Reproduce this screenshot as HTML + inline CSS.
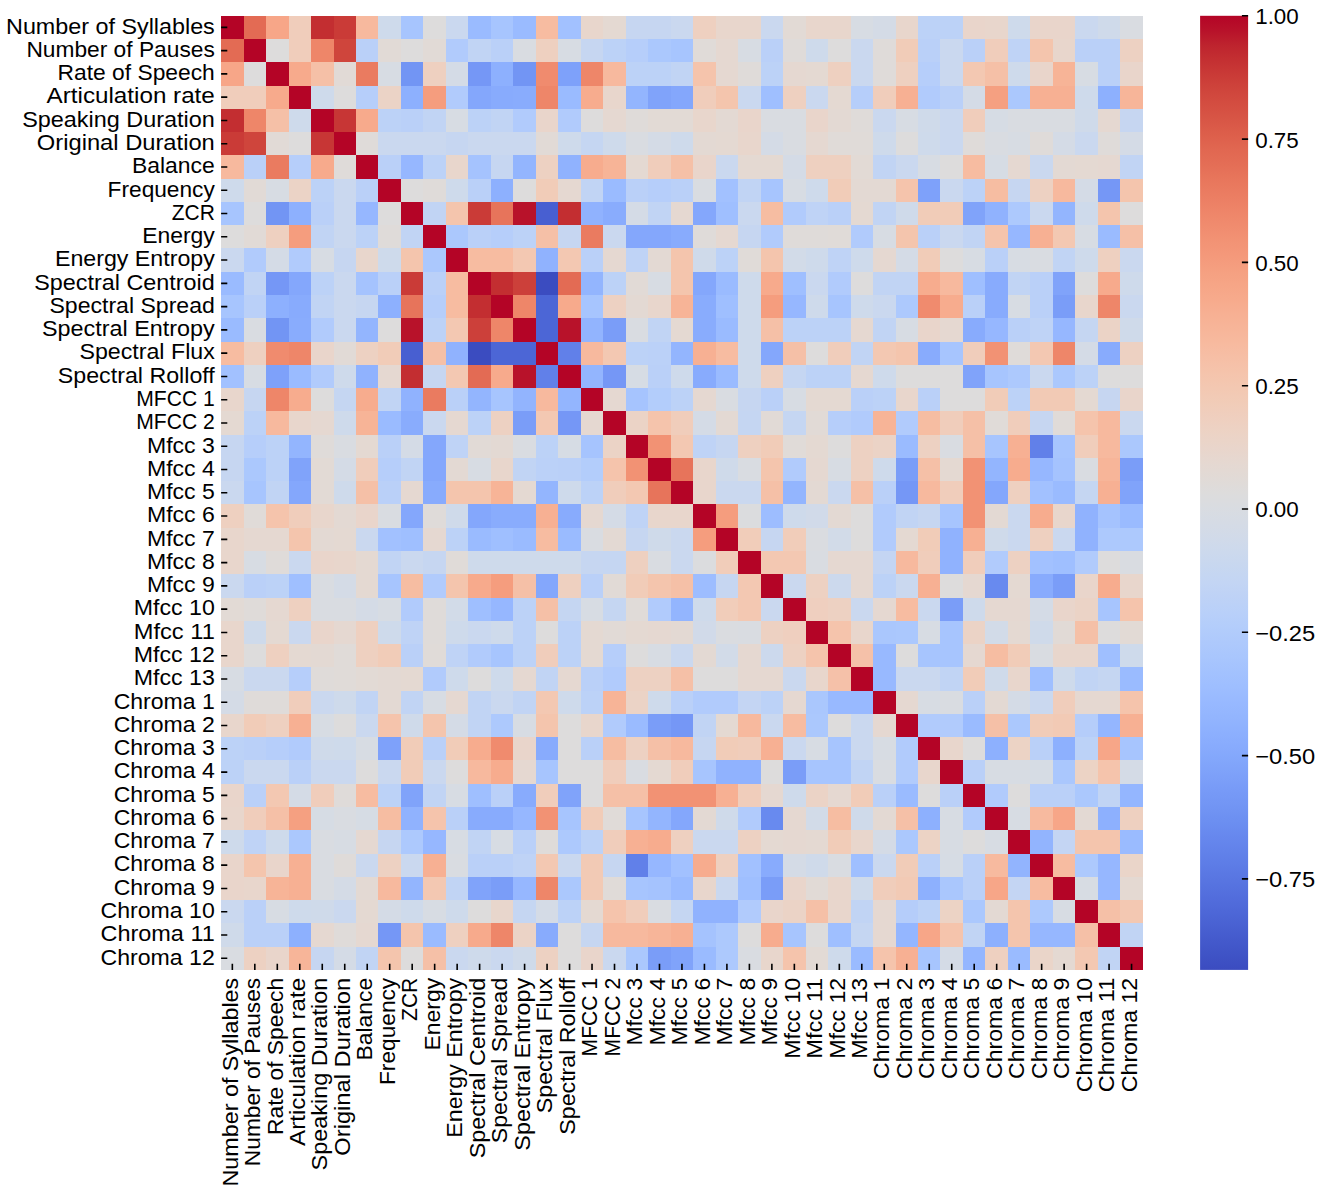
<!DOCTYPE html><html><head><meta charset="utf-8"><style>html,body{margin:0;padding:0;background:#fff;}svg{display:block;}text{font-family:"Liberation Sans",sans-serif;fill:#000;}</style></head><body>
<svg width="1325" height="1193" viewBox="0 0 1325 1193">
<rect width="1325" height="1193" fill="#fff"/>
<defs><linearGradient id="cb" x1="0" y1="0" x2="0" y2="1"><stop offset="0.0000" stop-color="#b40426"/><stop offset="0.0156" stop-color="#b8122a"/><stop offset="0.0312" stop-color="#be242e"/><stop offset="0.0469" stop-color="#c43032"/><stop offset="0.0625" stop-color="#ca3b37"/><stop offset="0.0781" stop-color="#cf453c"/><stop offset="0.0938" stop-color="#d44e41"/><stop offset="0.1094" stop-color="#d85646"/><stop offset="0.1250" stop-color="#dd5f4b"/><stop offset="0.1406" stop-color="#e16751"/><stop offset="0.1562" stop-color="#e46e56"/><stop offset="0.1719" stop-color="#e8765c"/><stop offset="0.1875" stop-color="#eb7d62"/><stop offset="0.2031" stop-color="#ee8468"/><stop offset="0.2188" stop-color="#f08b6e"/><stop offset="0.2344" stop-color="#f29274"/><stop offset="0.2500" stop-color="#f4987a"/><stop offset="0.2656" stop-color="#f59f80"/><stop offset="0.2812" stop-color="#f6a586"/><stop offset="0.2969" stop-color="#f7aa8c"/><stop offset="0.3125" stop-color="#f7b093"/><stop offset="0.3281" stop-color="#f7b599"/><stop offset="0.3438" stop-color="#f7ba9f"/><stop offset="0.3594" stop-color="#f6bfa6"/><stop offset="0.3750" stop-color="#f5c4ac"/><stop offset="0.3906" stop-color="#f3c8b2"/><stop offset="0.4062" stop-color="#f1ccb8"/><stop offset="0.4219" stop-color="#efcfbf"/><stop offset="0.4375" stop-color="#ecd3c5"/><stop offset="0.4531" stop-color="#e9d5cb"/><stop offset="0.4688" stop-color="#e5d8d1"/><stop offset="0.4844" stop-color="#e1dad6"/><stop offset="0.5000" stop-color="#dddcdc"/><stop offset="0.5156" stop-color="#d9dce1"/><stop offset="0.5312" stop-color="#d5dbe5"/><stop offset="0.5469" stop-color="#d1dae9"/><stop offset="0.5625" stop-color="#ccd9ed"/><stop offset="0.5781" stop-color="#c7d7f0"/><stop offset="0.5938" stop-color="#c3d5f4"/><stop offset="0.6094" stop-color="#bed2f6"/><stop offset="0.6250" stop-color="#b9d0f9"/><stop offset="0.6406" stop-color="#b3cdfb"/><stop offset="0.6562" stop-color="#aec9fc"/><stop offset="0.6719" stop-color="#a9c6fd"/><stop offset="0.6875" stop-color="#a3c2fe"/><stop offset="0.7031" stop-color="#9ebeff"/><stop offset="0.7188" stop-color="#98b9ff"/><stop offset="0.7344" stop-color="#93b5fe"/><stop offset="0.7500" stop-color="#8db0fe"/><stop offset="0.7656" stop-color="#88abfd"/><stop offset="0.7812" stop-color="#82a6fb"/><stop offset="0.7969" stop-color="#7da0f9"/><stop offset="0.8125" stop-color="#779af7"/><stop offset="0.8281" stop-color="#7295f4"/><stop offset="0.8438" stop-color="#6c8ff1"/><stop offset="0.8594" stop-color="#6788ee"/><stop offset="0.8750" stop-color="#6282ea"/><stop offset="0.8906" stop-color="#5d7ce6"/><stop offset="0.9062" stop-color="#5875e1"/><stop offset="0.9219" stop-color="#536edd"/><stop offset="0.9375" stop-color="#4e68d8"/><stop offset="0.9531" stop-color="#4961d2"/><stop offset="0.9688" stop-color="#445acc"/><stop offset="0.9844" stop-color="#3f53c6"/><stop offset="1.0000" stop-color="#3b4cc0"/></linearGradient></defs>
<g shape-rendering="crispEdges">
<rect x="221.10" y="15.70" width="22.88" height="23.67" fill="#b40426"/>
<rect x="243.58" y="15.70" width="22.88" height="23.67" fill="#e36b54"/>
<rect x="266.06" y="15.70" width="22.88" height="23.67" fill="#f7a688"/>
<rect x="288.54" y="15.70" width="22.88" height="23.67" fill="#f0cdbb"/>
<rect x="311.02" y="15.70" width="22.88" height="23.67" fill="#c32e31"/>
<rect x="333.50" y="15.70" width="22.88" height="23.67" fill="#ca3b37"/>
<rect x="355.98" y="15.70" width="22.88" height="23.67" fill="#f7b99e"/>
<rect x="378.46" y="15.70" width="22.88" height="23.67" fill="#cedaeb"/>
<rect x="400.94" y="15.70" width="22.88" height="23.67" fill="#a7c5fe"/>
<rect x="423.42" y="15.70" width="22.88" height="23.67" fill="#dddcdc"/>
<rect x="445.90" y="15.70" width="22.88" height="23.67" fill="#cad8ef"/>
<rect x="468.39" y="15.70" width="22.88" height="23.67" fill="#9abbff"/>
<rect x="490.87" y="15.70" width="22.88" height="23.67" fill="#a7c5fe"/>
<rect x="513.35" y="15.70" width="22.88" height="23.67" fill="#9abbff"/>
<rect x="535.83" y="15.70" width="22.88" height="23.67" fill="#f7bca1"/>
<rect x="558.31" y="15.70" width="22.88" height="23.67" fill="#a2c1ff"/>
<rect x="580.79" y="15.70" width="22.88" height="23.67" fill="#e8d6cc"/>
<rect x="603.27" y="15.70" width="22.88" height="23.67" fill="#e4d9d2"/>
<rect x="625.75" y="15.70" width="22.88" height="23.67" fill="#c6d6f1"/>
<rect x="648.23" y="15.70" width="22.88" height="23.67" fill="#c6d6f1"/>
<rect x="670.71" y="15.70" width="22.88" height="23.67" fill="#cad8ef"/>
<rect x="693.19" y="15.70" width="22.88" height="23.67" fill="#eed0c0"/>
<rect x="715.67" y="15.70" width="22.88" height="23.67" fill="#e8d6cc"/>
<rect x="738.15" y="15.70" width="22.88" height="23.67" fill="#e8d6cc"/>
<rect x="760.63" y="15.70" width="22.88" height="23.67" fill="#cad8ef"/>
<rect x="783.11" y="15.70" width="22.88" height="23.67" fill="#e2dad5"/>
<rect x="805.59" y="15.70" width="22.88" height="23.67" fill="#e8d6cc"/>
<rect x="828.07" y="15.70" width="22.88" height="23.67" fill="#e8d6cc"/>
<rect x="850.55" y="15.70" width="22.88" height="23.67" fill="#d7dce3"/>
<rect x="873.03" y="15.70" width="22.88" height="23.67" fill="#d4dbe6"/>
<rect x="895.51" y="15.70" width="22.88" height="23.67" fill="#e8d6cc"/>
<rect x="918.00" y="15.70" width="22.88" height="23.67" fill="#bcd2f7"/>
<rect x="940.48" y="15.70" width="22.88" height="23.67" fill="#bcd2f7"/>
<rect x="962.96" y="15.70" width="22.88" height="23.67" fill="#e9d5cb"/>
<rect x="985.44" y="15.70" width="22.88" height="23.67" fill="#e8d6cc"/>
<rect x="1007.92" y="15.70" width="22.88" height="23.67" fill="#cedaeb"/>
<rect x="1030.40" y="15.70" width="22.88" height="23.67" fill="#e9d5cb"/>
<rect x="1052.88" y="15.70" width="22.88" height="23.67" fill="#e9d5cb"/>
<rect x="1075.36" y="15.70" width="22.88" height="23.67" fill="#cad8ef"/>
<rect x="1097.84" y="15.70" width="22.88" height="23.67" fill="#cfdaea"/>
<rect x="1120.32" y="15.70" width="22.88" height="23.67" fill="#d9dce1"/>
<rect x="221.10" y="38.97" width="22.88" height="23.67" fill="#e36b54"/>
<rect x="243.58" y="38.97" width="22.88" height="23.67" fill="#b40426"/>
<rect x="266.06" y="38.97" width="22.88" height="23.67" fill="#dddcdc"/>
<rect x="288.54" y="38.97" width="22.88" height="23.67" fill="#f0cdbb"/>
<rect x="311.02" y="38.97" width="22.88" height="23.67" fill="#ee8669"/>
<rect x="333.50" y="38.97" width="22.88" height="23.67" fill="#cf453c"/>
<rect x="355.98" y="38.97" width="22.88" height="23.67" fill="#bad0f8"/>
<rect x="378.46" y="38.97" width="22.88" height="23.67" fill="#e1dad6"/>
<rect x="400.94" y="38.97" width="22.88" height="23.67" fill="#dddcdc"/>
<rect x="423.42" y="38.97" width="22.88" height="23.67" fill="#e1dad6"/>
<rect x="445.90" y="38.97" width="22.88" height="23.67" fill="#b1cbfc"/>
<rect x="468.39" y="38.97" width="22.88" height="23.67" fill="#c1d4f4"/>
<rect x="490.87" y="38.97" width="22.88" height="23.67" fill="#bad0f8"/>
<rect x="513.35" y="38.97" width="22.88" height="23.67" fill="#d9dce1"/>
<rect x="535.83" y="38.97" width="22.88" height="23.67" fill="#eed0c0"/>
<rect x="558.31" y="38.97" width="22.88" height="23.67" fill="#d7dce3"/>
<rect x="580.79" y="38.97" width="22.88" height="23.67" fill="#c6d6f1"/>
<rect x="603.27" y="38.97" width="22.88" height="23.67" fill="#bcd2f7"/>
<rect x="625.75" y="38.97" width="22.88" height="23.67" fill="#b6cefa"/>
<rect x="648.23" y="38.97" width="22.88" height="23.67" fill="#abc8fd"/>
<rect x="670.71" y="38.97" width="22.88" height="23.67" fill="#a7c5fe"/>
<rect x="693.19" y="38.97" width="22.88" height="23.67" fill="#e0dbd8"/>
<rect x="715.67" y="38.97" width="22.88" height="23.67" fill="#e5d8d1"/>
<rect x="738.15" y="38.97" width="22.88" height="23.67" fill="#d7dce3"/>
<rect x="760.63" y="38.97" width="22.88" height="23.67" fill="#bad0f8"/>
<rect x="783.11" y="38.97" width="22.88" height="23.67" fill="#dfdbd9"/>
<rect x="805.59" y="38.97" width="22.88" height="23.67" fill="#cedaeb"/>
<rect x="828.07" y="38.97" width="22.88" height="23.67" fill="#dddcdc"/>
<rect x="850.55" y="38.97" width="22.88" height="23.67" fill="#cad8ef"/>
<rect x="873.03" y="38.97" width="22.88" height="23.67" fill="#dfdbd9"/>
<rect x="895.51" y="38.97" width="22.88" height="23.67" fill="#f1ccb8"/>
<rect x="918.00" y="38.97" width="22.88" height="23.67" fill="#bad0f8"/>
<rect x="940.48" y="38.97" width="22.88" height="23.67" fill="#cad8ef"/>
<rect x="962.96" y="38.97" width="22.88" height="23.67" fill="#bad0f8"/>
<rect x="985.44" y="38.97" width="22.88" height="23.67" fill="#f0cdbb"/>
<rect x="1007.92" y="38.97" width="22.88" height="23.67" fill="#bfd3f6"/>
<rect x="1030.40" y="38.97" width="22.88" height="23.67" fill="#f4c5ad"/>
<rect x="1052.88" y="38.97" width="22.88" height="23.67" fill="#e8d6cc"/>
<rect x="1075.36" y="38.97" width="22.88" height="23.67" fill="#bad0f8"/>
<rect x="1097.84" y="38.97" width="22.88" height="23.67" fill="#bad0f8"/>
<rect x="1120.32" y="38.97" width="22.88" height="23.67" fill="#edd1c2"/>
<rect x="221.10" y="62.25" width="22.88" height="23.67" fill="#f7a688"/>
<rect x="243.58" y="62.25" width="22.88" height="23.67" fill="#dddcdc"/>
<rect x="266.06" y="62.25" width="22.88" height="23.67" fill="#b40426"/>
<rect x="288.54" y="62.25" width="22.88" height="23.67" fill="#f7aa8c"/>
<rect x="311.02" y="62.25" width="22.88" height="23.67" fill="#f5c0a7"/>
<rect x="333.50" y="62.25" width="22.88" height="23.67" fill="#e1dad6"/>
<rect x="355.98" y="62.25" width="22.88" height="23.67" fill="#ea7b60"/>
<rect x="378.46" y="62.25" width="22.88" height="23.67" fill="#d7dce3"/>
<rect x="400.94" y="62.25" width="22.88" height="23.67" fill="#7295f4"/>
<rect x="423.42" y="62.25" width="22.88" height="23.67" fill="#eed0c0"/>
<rect x="445.90" y="62.25" width="22.88" height="23.67" fill="#d4dbe6"/>
<rect x="468.39" y="62.25" width="22.88" height="23.67" fill="#7597f6"/>
<rect x="490.87" y="62.25" width="22.88" height="23.67" fill="#8db0fe"/>
<rect x="513.35" y="62.25" width="22.88" height="23.67" fill="#7295f4"/>
<rect x="535.83" y="62.25" width="22.88" height="23.67" fill="#f08b6e"/>
<rect x="558.31" y="62.25" width="22.88" height="23.67" fill="#7ea1fa"/>
<rect x="580.79" y="62.25" width="22.88" height="23.67" fill="#ee8669"/>
<rect x="603.27" y="62.25" width="22.88" height="23.67" fill="#f7b99e"/>
<rect x="625.75" y="62.25" width="22.88" height="23.67" fill="#bcd2f7"/>
<rect x="648.23" y="62.25" width="22.88" height="23.67" fill="#bcd2f7"/>
<rect x="670.71" y="62.25" width="22.88" height="23.67" fill="#c1d4f4"/>
<rect x="693.19" y="62.25" width="22.88" height="23.67" fill="#f5c4ac"/>
<rect x="715.67" y="62.25" width="22.88" height="23.67" fill="#e5d8d1"/>
<rect x="738.15" y="62.25" width="22.88" height="23.67" fill="#dfdbd9"/>
<rect x="760.63" y="62.25" width="22.88" height="23.67" fill="#bcd2f7"/>
<rect x="783.11" y="62.25" width="22.88" height="23.67" fill="#e5d8d1"/>
<rect x="805.59" y="62.25" width="22.88" height="23.67" fill="#e4d9d2"/>
<rect x="828.07" y="62.25" width="22.88" height="23.67" fill="#eed0c0"/>
<rect x="850.55" y="62.25" width="22.88" height="23.67" fill="#cad8ef"/>
<rect x="873.03" y="62.25" width="22.88" height="23.67" fill="#dfdbd9"/>
<rect x="895.51" y="62.25" width="22.88" height="23.67" fill="#eed0c0"/>
<rect x="918.00" y="62.25" width="22.88" height="23.67" fill="#b6cefa"/>
<rect x="940.48" y="62.25" width="22.88" height="23.67" fill="#cad8ef"/>
<rect x="962.96" y="62.25" width="22.88" height="23.67" fill="#f3c8b2"/>
<rect x="985.44" y="62.25" width="22.88" height="23.67" fill="#f5c0a7"/>
<rect x="1007.92" y="62.25" width="22.88" height="23.67" fill="#cedaeb"/>
<rect x="1030.40" y="62.25" width="22.88" height="23.67" fill="#e9d5cb"/>
<rect x="1052.88" y="62.25" width="22.88" height="23.67" fill="#f7b497"/>
<rect x="1075.36" y="62.25" width="22.88" height="23.67" fill="#d7dce3"/>
<rect x="1097.84" y="62.25" width="22.88" height="23.67" fill="#bad0f8"/>
<rect x="1120.32" y="62.25" width="22.88" height="23.67" fill="#e9d5cb"/>
<rect x="221.10" y="85.52" width="22.88" height="23.67" fill="#f0cdbb"/>
<rect x="243.58" y="85.52" width="22.88" height="23.67" fill="#f0cdbb"/>
<rect x="266.06" y="85.52" width="22.88" height="23.67" fill="#f7aa8c"/>
<rect x="288.54" y="85.52" width="22.88" height="23.67" fill="#b40426"/>
<rect x="311.02" y="85.52" width="22.88" height="23.67" fill="#cedaeb"/>
<rect x="333.50" y="85.52" width="22.88" height="23.67" fill="#dddcdc"/>
<rect x="355.98" y="85.52" width="22.88" height="23.67" fill="#b6cefa"/>
<rect x="378.46" y="85.52" width="22.88" height="23.67" fill="#ebd3c6"/>
<rect x="400.94" y="85.52" width="22.88" height="23.67" fill="#8db0fe"/>
<rect x="423.42" y="85.52" width="22.88" height="23.67" fill="#f59d7e"/>
<rect x="445.90" y="85.52" width="22.88" height="23.67" fill="#b1cbfc"/>
<rect x="468.39" y="85.52" width="22.88" height="23.67" fill="#84a7fc"/>
<rect x="490.87" y="85.52" width="22.88" height="23.67" fill="#88abfd"/>
<rect x="513.35" y="85.52" width="22.88" height="23.67" fill="#89acfd"/>
<rect x="535.83" y="85.52" width="22.88" height="23.67" fill="#ee8669"/>
<rect x="558.31" y="85.52" width="22.88" height="23.67" fill="#9abbff"/>
<rect x="580.79" y="85.52" width="22.88" height="23.67" fill="#f7ac8e"/>
<rect x="603.27" y="85.52" width="22.88" height="23.67" fill="#e8d6cc"/>
<rect x="625.75" y="85.52" width="22.88" height="23.67" fill="#93b5fe"/>
<rect x="648.23" y="85.52" width="22.88" height="23.67" fill="#80a3fa"/>
<rect x="670.71" y="85.52" width="22.88" height="23.67" fill="#84a7fc"/>
<rect x="693.19" y="85.52" width="22.88" height="23.67" fill="#f0cdbb"/>
<rect x="715.67" y="85.52" width="22.88" height="23.67" fill="#f4c5ad"/>
<rect x="738.15" y="85.52" width="22.88" height="23.67" fill="#cad8ef"/>
<rect x="760.63" y="85.52" width="22.88" height="23.67" fill="#9fbfff"/>
<rect x="783.11" y="85.52" width="22.88" height="23.67" fill="#eed0c0"/>
<rect x="805.59" y="85.52" width="22.88" height="23.67" fill="#cad8ef"/>
<rect x="828.07" y="85.52" width="22.88" height="23.67" fill="#e4d9d2"/>
<rect x="850.55" y="85.52" width="22.88" height="23.67" fill="#b6cefa"/>
<rect x="873.03" y="85.52" width="22.88" height="23.67" fill="#f0cdbb"/>
<rect x="895.51" y="85.52" width="22.88" height="23.67" fill="#f7b093"/>
<rect x="918.00" y="85.52" width="22.88" height="23.67" fill="#b1cbfc"/>
<rect x="940.48" y="85.52" width="22.88" height="23.67" fill="#bad0f8"/>
<rect x="962.96" y="85.52" width="22.88" height="23.67" fill="#d4dbe6"/>
<rect x="985.44" y="85.52" width="22.88" height="23.67" fill="#f5a081"/>
<rect x="1007.92" y="85.52" width="22.88" height="23.67" fill="#abc8fd"/>
<rect x="1030.40" y="85.52" width="22.88" height="23.67" fill="#f7b093"/>
<rect x="1052.88" y="85.52" width="22.88" height="23.67" fill="#f7b093"/>
<rect x="1075.36" y="85.52" width="22.88" height="23.67" fill="#cedaeb"/>
<rect x="1097.84" y="85.52" width="22.88" height="23.67" fill="#8db0fe"/>
<rect x="1120.32" y="85.52" width="22.88" height="23.67" fill="#f7b599"/>
<rect x="221.10" y="108.79" width="22.88" height="23.67" fill="#c32e31"/>
<rect x="243.58" y="108.79" width="22.88" height="23.67" fill="#ee8669"/>
<rect x="266.06" y="108.79" width="22.88" height="23.67" fill="#f5c0a7"/>
<rect x="288.54" y="108.79" width="22.88" height="23.67" fill="#cedaeb"/>
<rect x="311.02" y="108.79" width="22.88" height="23.67" fill="#b40426"/>
<rect x="333.50" y="108.79" width="22.88" height="23.67" fill="#c73635"/>
<rect x="355.98" y="108.79" width="22.88" height="23.67" fill="#f7aa8c"/>
<rect x="378.46" y="108.79" width="22.88" height="23.67" fill="#bcd2f7"/>
<rect x="400.94" y="108.79" width="22.88" height="23.67" fill="#bad0f8"/>
<rect x="423.42" y="108.79" width="22.88" height="23.67" fill="#c1d4f4"/>
<rect x="445.90" y="108.79" width="22.88" height="23.67" fill="#d7dce3"/>
<rect x="468.39" y="108.79" width="22.88" height="23.67" fill="#bcd2f7"/>
<rect x="490.87" y="108.79" width="22.88" height="23.67" fill="#c1d4f4"/>
<rect x="513.35" y="108.79" width="22.88" height="23.67" fill="#b1cbfc"/>
<rect x="535.83" y="108.79" width="22.88" height="23.67" fill="#e9d5cb"/>
<rect x="558.31" y="108.79" width="22.88" height="23.67" fill="#b1cbfc"/>
<rect x="580.79" y="108.79" width="22.88" height="23.67" fill="#dddcdc"/>
<rect x="603.27" y="108.79" width="22.88" height="23.67" fill="#e5d8d1"/>
<rect x="625.75" y="108.79" width="22.88" height="23.67" fill="#dfdbd9"/>
<rect x="648.23" y="108.79" width="22.88" height="23.67" fill="#e2dad5"/>
<rect x="670.71" y="108.79" width="22.88" height="23.67" fill="#e2dad5"/>
<rect x="693.19" y="108.79" width="22.88" height="23.67" fill="#e8d6cc"/>
<rect x="715.67" y="108.79" width="22.88" height="23.67" fill="#e3d9d3"/>
<rect x="738.15" y="108.79" width="22.88" height="23.67" fill="#e9d5cb"/>
<rect x="760.63" y="108.79" width="22.88" height="23.67" fill="#d9dce1"/>
<rect x="783.11" y="108.79" width="22.88" height="23.67" fill="#d9dce1"/>
<rect x="805.59" y="108.79" width="22.88" height="23.67" fill="#e9d5cb"/>
<rect x="828.07" y="108.79" width="22.88" height="23.67" fill="#e3d9d3"/>
<rect x="850.55" y="108.79" width="22.88" height="23.67" fill="#dfdbd9"/>
<rect x="873.03" y="108.79" width="22.88" height="23.67" fill="#cad8ef"/>
<rect x="895.51" y="108.79" width="22.88" height="23.67" fill="#d7dce3"/>
<rect x="918.00" y="108.79" width="22.88" height="23.67" fill="#cfdaea"/>
<rect x="940.48" y="108.79" width="22.88" height="23.67" fill="#cad8ef"/>
<rect x="962.96" y="108.79" width="22.88" height="23.67" fill="#f0cdbb"/>
<rect x="985.44" y="108.79" width="22.88" height="23.67" fill="#d6dce4"/>
<rect x="1007.92" y="108.79" width="22.88" height="23.67" fill="#d9dce1"/>
<rect x="1030.40" y="108.79" width="22.88" height="23.67" fill="#d9dce1"/>
<rect x="1052.88" y="108.79" width="22.88" height="23.67" fill="#d9dce1"/>
<rect x="1075.36" y="108.79" width="22.88" height="23.67" fill="#cfdaea"/>
<rect x="1097.84" y="108.79" width="22.88" height="23.67" fill="#e5d8d1"/>
<rect x="1120.32" y="108.79" width="22.88" height="23.67" fill="#c6d6f1"/>
<rect x="221.10" y="132.07" width="22.88" height="23.67" fill="#ca3b37"/>
<rect x="243.58" y="132.07" width="22.88" height="23.67" fill="#cf453c"/>
<rect x="266.06" y="132.07" width="22.88" height="23.67" fill="#e1dad6"/>
<rect x="288.54" y="132.07" width="22.88" height="23.67" fill="#dddcdc"/>
<rect x="311.02" y="132.07" width="22.88" height="23.67" fill="#c73635"/>
<rect x="333.50" y="132.07" width="22.88" height="23.67" fill="#b40426"/>
<rect x="355.98" y="132.07" width="22.88" height="23.67" fill="#dfdbd9"/>
<rect x="378.46" y="132.07" width="22.88" height="23.67" fill="#cad8ef"/>
<rect x="400.94" y="132.07" width="22.88" height="23.67" fill="#cad8ef"/>
<rect x="423.42" y="132.07" width="22.88" height="23.67" fill="#cad8ef"/>
<rect x="445.90" y="132.07" width="22.88" height="23.67" fill="#c6d6f1"/>
<rect x="468.39" y="132.07" width="22.88" height="23.67" fill="#cad8ef"/>
<rect x="490.87" y="132.07" width="22.88" height="23.67" fill="#cad8ef"/>
<rect x="513.35" y="132.07" width="22.88" height="23.67" fill="#cad8ef"/>
<rect x="535.83" y="132.07" width="22.88" height="23.67" fill="#e1dad6"/>
<rect x="558.31" y="132.07" width="22.88" height="23.67" fill="#cedaeb"/>
<rect x="580.79" y="132.07" width="22.88" height="23.67" fill="#c5d6f2"/>
<rect x="603.27" y="132.07" width="22.88" height="23.67" fill="#cedaeb"/>
<rect x="625.75" y="132.07" width="22.88" height="23.67" fill="#d9dce1"/>
<rect x="648.23" y="132.07" width="22.88" height="23.67" fill="#d4dbe6"/>
<rect x="670.71" y="132.07" width="22.88" height="23.67" fill="#cedaeb"/>
<rect x="693.19" y="132.07" width="22.88" height="23.67" fill="#e3d9d3"/>
<rect x="715.67" y="132.07" width="22.88" height="23.67" fill="#e4d9d2"/>
<rect x="738.15" y="132.07" width="22.88" height="23.67" fill="#e8d6cc"/>
<rect x="760.63" y="132.07" width="22.88" height="23.67" fill="#d4dbe6"/>
<rect x="783.11" y="132.07" width="22.88" height="23.67" fill="#d9dce1"/>
<rect x="805.59" y="132.07" width="22.88" height="23.67" fill="#e5d8d1"/>
<rect x="828.07" y="132.07" width="22.88" height="23.67" fill="#e0dbd8"/>
<rect x="850.55" y="132.07" width="22.88" height="23.67" fill="#e0dbd8"/>
<rect x="873.03" y="132.07" width="22.88" height="23.67" fill="#cedaeb"/>
<rect x="895.51" y="132.07" width="22.88" height="23.67" fill="#dddcdc"/>
<rect x="918.00" y="132.07" width="22.88" height="23.67" fill="#cedaeb"/>
<rect x="940.48" y="132.07" width="22.88" height="23.67" fill="#cad8ef"/>
<rect x="962.96" y="132.07" width="22.88" height="23.67" fill="#dfdbd9"/>
<rect x="985.44" y="132.07" width="22.88" height="23.67" fill="#d9dce1"/>
<rect x="1007.92" y="132.07" width="22.88" height="23.67" fill="#d7dce3"/>
<rect x="1030.40" y="132.07" width="22.88" height="23.67" fill="#dfdbd9"/>
<rect x="1052.88" y="132.07" width="22.88" height="23.67" fill="#d4dbe6"/>
<rect x="1075.36" y="132.07" width="22.88" height="23.67" fill="#cad8ef"/>
<rect x="1097.84" y="132.07" width="22.88" height="23.67" fill="#dfdbd9"/>
<rect x="1120.32" y="132.07" width="22.88" height="23.67" fill="#d4dbe6"/>
<rect x="221.10" y="155.34" width="22.88" height="23.67" fill="#f7b99e"/>
<rect x="243.58" y="155.34" width="22.88" height="23.67" fill="#bad0f8"/>
<rect x="266.06" y="155.34" width="22.88" height="23.67" fill="#ea7b60"/>
<rect x="288.54" y="155.34" width="22.88" height="23.67" fill="#b6cefa"/>
<rect x="311.02" y="155.34" width="22.88" height="23.67" fill="#f7aa8c"/>
<rect x="333.50" y="155.34" width="22.88" height="23.67" fill="#dfdbd9"/>
<rect x="355.98" y="155.34" width="22.88" height="23.67" fill="#b40426"/>
<rect x="378.46" y="155.34" width="22.88" height="23.67" fill="#bad0f8"/>
<rect x="400.94" y="155.34" width="22.88" height="23.67" fill="#96b7ff"/>
<rect x="423.42" y="155.34" width="22.88" height="23.67" fill="#bcd2f7"/>
<rect x="445.90" y="155.34" width="22.88" height="23.67" fill="#e8d6cc"/>
<rect x="468.39" y="155.34" width="22.88" height="23.67" fill="#a5c3fe"/>
<rect x="490.87" y="155.34" width="22.88" height="23.67" fill="#c6d6f1"/>
<rect x="513.35" y="155.34" width="22.88" height="23.67" fill="#93b5fe"/>
<rect x="535.83" y="155.34" width="22.88" height="23.67" fill="#edd1c2"/>
<rect x="558.31" y="155.34" width="22.88" height="23.67" fill="#90b2fe"/>
<rect x="580.79" y="155.34" width="22.88" height="23.67" fill="#f7ac8e"/>
<rect x="603.27" y="155.34" width="22.88" height="23.67" fill="#f7b497"/>
<rect x="625.75" y="155.34" width="22.88" height="23.67" fill="#e4d9d2"/>
<rect x="648.23" y="155.34" width="22.88" height="23.67" fill="#f0cdbb"/>
<rect x="670.71" y="155.34" width="22.88" height="23.67" fill="#f5c0a7"/>
<rect x="693.19" y="155.34" width="22.88" height="23.67" fill="#e9d5cb"/>
<rect x="715.67" y="155.34" width="22.88" height="23.67" fill="#cad8ef"/>
<rect x="738.15" y="155.34" width="22.88" height="23.67" fill="#e4d9d2"/>
<rect x="760.63" y="155.34" width="22.88" height="23.67" fill="#e4d9d2"/>
<rect x="783.11" y="155.34" width="22.88" height="23.67" fill="#d4dbe6"/>
<rect x="805.59" y="155.34" width="22.88" height="23.67" fill="#eed0c0"/>
<rect x="828.07" y="155.34" width="22.88" height="23.67" fill="#eed0c0"/>
<rect x="850.55" y="155.34" width="22.88" height="23.67" fill="#e2dad5"/>
<rect x="873.03" y="155.34" width="22.88" height="23.67" fill="#c1d4f4"/>
<rect x="895.51" y="155.34" width="22.88" height="23.67" fill="#cad8ef"/>
<rect x="918.00" y="155.34" width="22.88" height="23.67" fill="#d7dce3"/>
<rect x="940.48" y="155.34" width="22.88" height="23.67" fill="#dddcdc"/>
<rect x="962.96" y="155.34" width="22.88" height="23.67" fill="#f7bca1"/>
<rect x="985.44" y="155.34" width="22.88" height="23.67" fill="#d6dce4"/>
<rect x="1007.92" y="155.34" width="22.88" height="23.67" fill="#e5d8d1"/>
<rect x="1030.40" y="155.34" width="22.88" height="23.67" fill="#cad8ef"/>
<rect x="1052.88" y="155.34" width="22.88" height="23.67" fill="#e3d9d3"/>
<rect x="1075.36" y="155.34" width="22.88" height="23.67" fill="#e4d9d2"/>
<rect x="1097.84" y="155.34" width="22.88" height="23.67" fill="#e5d8d1"/>
<rect x="1120.32" y="155.34" width="22.88" height="23.67" fill="#c1d4f4"/>
<rect x="221.10" y="178.61" width="22.88" height="23.67" fill="#cedaeb"/>
<rect x="243.58" y="178.61" width="22.88" height="23.67" fill="#e1dad6"/>
<rect x="266.06" y="178.61" width="22.88" height="23.67" fill="#d7dce3"/>
<rect x="288.54" y="178.61" width="22.88" height="23.67" fill="#ebd3c6"/>
<rect x="311.02" y="178.61" width="22.88" height="23.67" fill="#bcd2f7"/>
<rect x="333.50" y="178.61" width="22.88" height="23.67" fill="#cad8ef"/>
<rect x="355.98" y="178.61" width="22.88" height="23.67" fill="#bad0f8"/>
<rect x="378.46" y="178.61" width="22.88" height="23.67" fill="#b40426"/>
<rect x="400.94" y="178.61" width="22.88" height="23.67" fill="#dddcdc"/>
<rect x="423.42" y="178.61" width="22.88" height="23.67" fill="#dfdbd9"/>
<rect x="445.90" y="178.61" width="22.88" height="23.67" fill="#cedaeb"/>
<rect x="468.39" y="178.61" width="22.88" height="23.67" fill="#bad0f8"/>
<rect x="490.87" y="178.61" width="22.88" height="23.67" fill="#8db0fe"/>
<rect x="513.35" y="178.61" width="22.88" height="23.67" fill="#dddcdc"/>
<rect x="535.83" y="178.61" width="22.88" height="23.67" fill="#f1ccb8"/>
<rect x="558.31" y="178.61" width="22.88" height="23.67" fill="#e5d8d1"/>
<rect x="580.79" y="178.61" width="22.88" height="23.67" fill="#c1d4f4"/>
<rect x="603.27" y="178.61" width="22.88" height="23.67" fill="#9abbff"/>
<rect x="625.75" y="178.61" width="22.88" height="23.67" fill="#bad0f8"/>
<rect x="648.23" y="178.61" width="22.88" height="23.67" fill="#b6cefa"/>
<rect x="670.71" y="178.61" width="22.88" height="23.67" fill="#bad0f8"/>
<rect x="693.19" y="178.61" width="22.88" height="23.67" fill="#d9dce1"/>
<rect x="715.67" y="178.61" width="22.88" height="23.67" fill="#a2c1ff"/>
<rect x="738.15" y="178.61" width="22.88" height="23.67" fill="#c1d4f4"/>
<rect x="760.63" y="178.61" width="22.88" height="23.67" fill="#a7c5fe"/>
<rect x="783.11" y="178.61" width="22.88" height="23.67" fill="#d7dce3"/>
<rect x="805.59" y="178.61" width="22.88" height="23.67" fill="#cedaeb"/>
<rect x="828.07" y="178.61" width="22.88" height="23.67" fill="#f1ccb8"/>
<rect x="850.55" y="178.61" width="22.88" height="23.67" fill="#e3d9d3"/>
<rect x="873.03" y="178.61" width="22.88" height="23.67" fill="#e3d9d3"/>
<rect x="895.51" y="178.61" width="22.88" height="23.67" fill="#f5c4ac"/>
<rect x="918.00" y="178.61" width="22.88" height="23.67" fill="#7ea1fa"/>
<rect x="940.48" y="178.61" width="22.88" height="23.67" fill="#cad8ef"/>
<rect x="962.96" y="178.61" width="22.88" height="23.67" fill="#bcd2f7"/>
<rect x="985.44" y="178.61" width="22.88" height="23.67" fill="#f6bda2"/>
<rect x="1007.92" y="178.61" width="22.88" height="23.67" fill="#c6d6f1"/>
<rect x="1030.40" y="178.61" width="22.88" height="23.67" fill="#edd1c2"/>
<rect x="1052.88" y="178.61" width="22.88" height="23.67" fill="#f7b99e"/>
<rect x="1075.36" y="178.61" width="22.88" height="23.67" fill="#d4dbe6"/>
<rect x="1097.84" y="178.61" width="22.88" height="23.67" fill="#7597f6"/>
<rect x="1120.32" y="178.61" width="22.88" height="23.67" fill="#f4c5ad"/>
<rect x="221.10" y="201.89" width="22.88" height="23.67" fill="#a7c5fe"/>
<rect x="243.58" y="201.89" width="22.88" height="23.67" fill="#dddcdc"/>
<rect x="266.06" y="201.89" width="22.88" height="23.67" fill="#7295f4"/>
<rect x="288.54" y="201.89" width="22.88" height="23.67" fill="#8db0fe"/>
<rect x="311.02" y="201.89" width="22.88" height="23.67" fill="#bad0f8"/>
<rect x="333.50" y="201.89" width="22.88" height="23.67" fill="#cad8ef"/>
<rect x="355.98" y="201.89" width="22.88" height="23.67" fill="#96b7ff"/>
<rect x="378.46" y="201.89" width="22.88" height="23.67" fill="#dddcdc"/>
<rect x="400.94" y="201.89" width="22.88" height="23.67" fill="#b40426"/>
<rect x="423.42" y="201.89" width="22.88" height="23.67" fill="#c1d4f4"/>
<rect x="445.90" y="201.89" width="22.88" height="23.67" fill="#f4c5ad"/>
<rect x="468.39" y="201.89" width="22.88" height="23.67" fill="#ca3b37"/>
<rect x="490.87" y="201.89" width="22.88" height="23.67" fill="#e7745b"/>
<rect x="513.35" y="201.89" width="22.88" height="23.67" fill="#b8122a"/>
<rect x="535.83" y="201.89" width="22.88" height="23.67" fill="#485fd1"/>
<rect x="558.31" y="201.89" width="22.88" height="23.67" fill="#c32e31"/>
<rect x="580.79" y="201.89" width="22.88" height="23.67" fill="#90b2fe"/>
<rect x="603.27" y="201.89" width="22.88" height="23.67" fill="#89acfd"/>
<rect x="625.75" y="201.89" width="22.88" height="23.67" fill="#d4dbe6"/>
<rect x="648.23" y="201.89" width="22.88" height="23.67" fill="#c1d4f4"/>
<rect x="670.71" y="201.89" width="22.88" height="23.67" fill="#e5d8d1"/>
<rect x="693.19" y="201.89" width="22.88" height="23.67" fill="#84a7fc"/>
<rect x="715.67" y="201.89" width="22.88" height="23.67" fill="#9fbfff"/>
<rect x="738.15" y="201.89" width="22.88" height="23.67" fill="#cad8ef"/>
<rect x="760.63" y="201.89" width="22.88" height="23.67" fill="#f6bda2"/>
<rect x="783.11" y="201.89" width="22.88" height="23.67" fill="#b1cbfc"/>
<rect x="805.59" y="201.89" width="22.88" height="23.67" fill="#bfd3f6"/>
<rect x="828.07" y="201.89" width="22.88" height="23.67" fill="#bad0f8"/>
<rect x="850.55" y="201.89" width="22.88" height="23.67" fill="#e4d9d2"/>
<rect x="873.03" y="201.89" width="22.88" height="23.67" fill="#c1d4f4"/>
<rect x="895.51" y="201.89" width="22.88" height="23.67" fill="#cfdaea"/>
<rect x="918.00" y="201.89" width="22.88" height="23.67" fill="#f1ccb8"/>
<rect x="940.48" y="201.89" width="22.88" height="23.67" fill="#f1ccb8"/>
<rect x="962.96" y="201.89" width="22.88" height="23.67" fill="#80a3fa"/>
<rect x="985.44" y="201.89" width="22.88" height="23.67" fill="#90b2fe"/>
<rect x="1007.92" y="201.89" width="22.88" height="23.67" fill="#adc9fd"/>
<rect x="1030.40" y="201.89" width="22.88" height="23.67" fill="#cad8ef"/>
<rect x="1052.88" y="201.89" width="22.88" height="23.67" fill="#93b5fe"/>
<rect x="1075.36" y="201.89" width="22.88" height="23.67" fill="#cedaeb"/>
<rect x="1097.84" y="201.89" width="22.88" height="23.67" fill="#f4c5ad"/>
<rect x="1120.32" y="201.89" width="22.88" height="23.67" fill="#dddcdc"/>
<rect x="221.10" y="225.16" width="22.88" height="23.67" fill="#dddcdc"/>
<rect x="243.58" y="225.16" width="22.88" height="23.67" fill="#e1dad6"/>
<rect x="266.06" y="225.16" width="22.88" height="23.67" fill="#eed0c0"/>
<rect x="288.54" y="225.16" width="22.88" height="23.67" fill="#f59d7e"/>
<rect x="311.02" y="225.16" width="22.88" height="23.67" fill="#c1d4f4"/>
<rect x="333.50" y="225.16" width="22.88" height="23.67" fill="#cad8ef"/>
<rect x="355.98" y="225.16" width="22.88" height="23.67" fill="#bcd2f7"/>
<rect x="378.46" y="225.16" width="22.88" height="23.67" fill="#dfdbd9"/>
<rect x="400.94" y="225.16" width="22.88" height="23.67" fill="#c1d4f4"/>
<rect x="423.42" y="225.16" width="22.88" height="23.67" fill="#b40426"/>
<rect x="445.90" y="225.16" width="22.88" height="23.67" fill="#abc8fd"/>
<rect x="468.39" y="225.16" width="22.88" height="23.67" fill="#bad0f8"/>
<rect x="490.87" y="225.16" width="22.88" height="23.67" fill="#b6cefa"/>
<rect x="513.35" y="225.16" width="22.88" height="23.67" fill="#bcd2f7"/>
<rect x="535.83" y="225.16" width="22.88" height="23.67" fill="#f5c0a7"/>
<rect x="558.31" y="225.16" width="22.88" height="23.67" fill="#c6d6f1"/>
<rect x="580.79" y="225.16" width="22.88" height="23.67" fill="#ea7b60"/>
<rect x="603.27" y="225.16" width="22.88" height="23.67" fill="#cad8ef"/>
<rect x="625.75" y="225.16" width="22.88" height="23.67" fill="#84a7fc"/>
<rect x="648.23" y="225.16" width="22.88" height="23.67" fill="#84a7fc"/>
<rect x="670.71" y="225.16" width="22.88" height="23.67" fill="#88abfd"/>
<rect x="693.19" y="225.16" width="22.88" height="23.67" fill="#dfdbd9"/>
<rect x="715.67" y="225.16" width="22.88" height="23.67" fill="#e5d8d1"/>
<rect x="738.15" y="225.16" width="22.88" height="23.67" fill="#c6d6f1"/>
<rect x="760.63" y="225.16" width="22.88" height="23.67" fill="#b1cbfc"/>
<rect x="783.11" y="225.16" width="22.88" height="23.67" fill="#dfdbd9"/>
<rect x="805.59" y="225.16" width="22.88" height="23.67" fill="#dfdbd9"/>
<rect x="828.07" y="225.16" width="22.88" height="23.67" fill="#e0dbd8"/>
<rect x="850.55" y="225.16" width="22.88" height="23.67" fill="#b1cbfc"/>
<rect x="873.03" y="225.16" width="22.88" height="23.67" fill="#d7dce3"/>
<rect x="895.51" y="225.16" width="22.88" height="23.67" fill="#f4c5ad"/>
<rect x="918.00" y="225.16" width="22.88" height="23.67" fill="#bad0f8"/>
<rect x="940.48" y="225.16" width="22.88" height="23.67" fill="#cad8ef"/>
<rect x="962.96" y="225.16" width="22.88" height="23.67" fill="#c1d4f4"/>
<rect x="985.44" y="225.16" width="22.88" height="23.67" fill="#f5c4ac"/>
<rect x="1007.92" y="225.16" width="22.88" height="23.67" fill="#96b7ff"/>
<rect x="1030.40" y="225.16" width="22.88" height="23.67" fill="#f7b093"/>
<rect x="1052.88" y="225.16" width="22.88" height="23.67" fill="#f3c8b2"/>
<rect x="1075.36" y="225.16" width="22.88" height="23.67" fill="#d7dce3"/>
<rect x="1097.84" y="225.16" width="22.88" height="23.67" fill="#9abbff"/>
<rect x="1120.32" y="225.16" width="22.88" height="23.67" fill="#f5c0a7"/>
<rect x="221.10" y="248.43" width="22.88" height="23.67" fill="#cad8ef"/>
<rect x="243.58" y="248.43" width="22.88" height="23.67" fill="#b1cbfc"/>
<rect x="266.06" y="248.43" width="22.88" height="23.67" fill="#d4dbe6"/>
<rect x="288.54" y="248.43" width="22.88" height="23.67" fill="#b1cbfc"/>
<rect x="311.02" y="248.43" width="22.88" height="23.67" fill="#d7dce3"/>
<rect x="333.50" y="248.43" width="22.88" height="23.67" fill="#c6d6f1"/>
<rect x="355.98" y="248.43" width="22.88" height="23.67" fill="#e8d6cc"/>
<rect x="378.46" y="248.43" width="22.88" height="23.67" fill="#cedaeb"/>
<rect x="400.94" y="248.43" width="22.88" height="23.67" fill="#f4c5ad"/>
<rect x="423.42" y="248.43" width="22.88" height="23.67" fill="#abc8fd"/>
<rect x="445.90" y="248.43" width="22.88" height="23.67" fill="#b40426"/>
<rect x="468.39" y="248.43" width="22.88" height="23.67" fill="#f7bca1"/>
<rect x="490.87" y="248.43" width="22.88" height="23.67" fill="#f7bca1"/>
<rect x="513.35" y="248.43" width="22.88" height="23.67" fill="#f3c8b2"/>
<rect x="535.83" y="248.43" width="22.88" height="23.67" fill="#90b2fe"/>
<rect x="558.31" y="248.43" width="22.88" height="23.67" fill="#f3c8b2"/>
<rect x="580.79" y="248.43" width="22.88" height="23.67" fill="#bad0f8"/>
<rect x="603.27" y="248.43" width="22.88" height="23.67" fill="#e5d8d1"/>
<rect x="625.75" y="248.43" width="22.88" height="23.67" fill="#bfd3f6"/>
<rect x="648.23" y="248.43" width="22.88" height="23.67" fill="#e3d9d3"/>
<rect x="670.71" y="248.43" width="22.88" height="23.67" fill="#f4c5ad"/>
<rect x="693.19" y="248.43" width="22.88" height="23.67" fill="#cfdaea"/>
<rect x="715.67" y="248.43" width="22.88" height="23.67" fill="#bcd2f7"/>
<rect x="738.15" y="248.43" width="22.88" height="23.67" fill="#e0dbd8"/>
<rect x="760.63" y="248.43" width="22.88" height="23.67" fill="#f4c5ad"/>
<rect x="783.11" y="248.43" width="22.88" height="23.67" fill="#d2dbe8"/>
<rect x="805.59" y="248.43" width="22.88" height="23.67" fill="#cedaeb"/>
<rect x="828.07" y="248.43" width="22.88" height="23.67" fill="#bfd3f6"/>
<rect x="850.55" y="248.43" width="22.88" height="23.67" fill="#cedaeb"/>
<rect x="873.03" y="248.43" width="22.88" height="23.67" fill="#e5d8d1"/>
<rect x="895.51" y="248.43" width="22.88" height="23.67" fill="#d4dbe6"/>
<rect x="918.00" y="248.43" width="22.88" height="23.67" fill="#f1ccb8"/>
<rect x="940.48" y="248.43" width="22.88" height="23.67" fill="#dddcdc"/>
<rect x="962.96" y="248.43" width="22.88" height="23.67" fill="#d7dce3"/>
<rect x="985.44" y="248.43" width="22.88" height="23.67" fill="#bad0f8"/>
<rect x="1007.92" y="248.43" width="22.88" height="23.67" fill="#d7dce3"/>
<rect x="1030.40" y="248.43" width="22.88" height="23.67" fill="#d9dce1"/>
<rect x="1052.88" y="248.43" width="22.88" height="23.67" fill="#c1d4f4"/>
<rect x="1075.36" y="248.43" width="22.88" height="23.67" fill="#cedaeb"/>
<rect x="1097.84" y="248.43" width="22.88" height="23.67" fill="#eed0c0"/>
<rect x="1120.32" y="248.43" width="22.88" height="23.67" fill="#cad8ef"/>
<rect x="221.10" y="271.70" width="22.88" height="23.67" fill="#9abbff"/>
<rect x="243.58" y="271.70" width="22.88" height="23.67" fill="#c1d4f4"/>
<rect x="266.06" y="271.70" width="22.88" height="23.67" fill="#7597f6"/>
<rect x="288.54" y="271.70" width="22.88" height="23.67" fill="#84a7fc"/>
<rect x="311.02" y="271.70" width="22.88" height="23.67" fill="#bcd2f7"/>
<rect x="333.50" y="271.70" width="22.88" height="23.67" fill="#cad8ef"/>
<rect x="355.98" y="271.70" width="22.88" height="23.67" fill="#a5c3fe"/>
<rect x="378.46" y="271.70" width="22.88" height="23.67" fill="#bad0f8"/>
<rect x="400.94" y="271.70" width="22.88" height="23.67" fill="#ca3b37"/>
<rect x="423.42" y="271.70" width="22.88" height="23.67" fill="#bad0f8"/>
<rect x="445.90" y="271.70" width="22.88" height="23.67" fill="#f7bca1"/>
<rect x="468.39" y="271.70" width="22.88" height="23.67" fill="#b40426"/>
<rect x="490.87" y="271.70" width="22.88" height="23.67" fill="#c32e31"/>
<rect x="513.35" y="271.70" width="22.88" height="23.67" fill="#cc403a"/>
<rect x="535.83" y="271.70" width="22.88" height="23.67" fill="#3b4cc0"/>
<rect x="558.31" y="271.70" width="22.88" height="23.67" fill="#e36b54"/>
<rect x="580.79" y="271.70" width="22.88" height="23.67" fill="#93b5fe"/>
<rect x="603.27" y="271.70" width="22.88" height="23.67" fill="#bcd2f7"/>
<rect x="625.75" y="271.70" width="22.88" height="23.67" fill="#e1dad6"/>
<rect x="648.23" y="271.70" width="22.88" height="23.67" fill="#d7dce3"/>
<rect x="670.71" y="271.70" width="22.88" height="23.67" fill="#f4c5ad"/>
<rect x="693.19" y="271.70" width="22.88" height="23.67" fill="#84a7fc"/>
<rect x="715.67" y="271.70" width="22.88" height="23.67" fill="#9abbff"/>
<rect x="738.15" y="271.70" width="22.88" height="23.67" fill="#cedaeb"/>
<rect x="760.63" y="271.70" width="22.88" height="23.67" fill="#f7aa8c"/>
<rect x="783.11" y="271.70" width="22.88" height="23.67" fill="#9fbfff"/>
<rect x="805.59" y="271.70" width="22.88" height="23.67" fill="#cad8ef"/>
<rect x="828.07" y="271.70" width="22.88" height="23.67" fill="#b1cbfc"/>
<rect x="850.55" y="271.70" width="22.88" height="23.67" fill="#dddcdc"/>
<rect x="873.03" y="271.70" width="22.88" height="23.67" fill="#c1d4f4"/>
<rect x="895.51" y="271.70" width="22.88" height="23.67" fill="#c1d4f4"/>
<rect x="918.00" y="271.70" width="22.88" height="23.67" fill="#f7ac8e"/>
<rect x="940.48" y="271.70" width="22.88" height="23.67" fill="#f7b99e"/>
<rect x="962.96" y="271.70" width="22.88" height="23.67" fill="#9fbfff"/>
<rect x="985.44" y="271.70" width="22.88" height="23.67" fill="#88abfd"/>
<rect x="1007.92" y="271.70" width="22.88" height="23.67" fill="#c1d4f4"/>
<rect x="1030.40" y="271.70" width="22.88" height="23.67" fill="#bad0f8"/>
<rect x="1052.88" y="271.70" width="22.88" height="23.67" fill="#80a3fa"/>
<rect x="1075.36" y="271.70" width="22.88" height="23.67" fill="#dddcdc"/>
<rect x="1097.84" y="271.70" width="22.88" height="23.67" fill="#f7aa8c"/>
<rect x="1120.32" y="271.70" width="22.88" height="23.67" fill="#cedaeb"/>
<rect x="221.10" y="294.98" width="22.88" height="23.67" fill="#a7c5fe"/>
<rect x="243.58" y="294.98" width="22.88" height="23.67" fill="#bad0f8"/>
<rect x="266.06" y="294.98" width="22.88" height="23.67" fill="#8db0fe"/>
<rect x="288.54" y="294.98" width="22.88" height="23.67" fill="#88abfd"/>
<rect x="311.02" y="294.98" width="22.88" height="23.67" fill="#c1d4f4"/>
<rect x="333.50" y="294.98" width="22.88" height="23.67" fill="#cad8ef"/>
<rect x="355.98" y="294.98" width="22.88" height="23.67" fill="#c6d6f1"/>
<rect x="378.46" y="294.98" width="22.88" height="23.67" fill="#8db0fe"/>
<rect x="400.94" y="294.98" width="22.88" height="23.67" fill="#e7745b"/>
<rect x="423.42" y="294.98" width="22.88" height="23.67" fill="#b6cefa"/>
<rect x="445.90" y="294.98" width="22.88" height="23.67" fill="#f7bca1"/>
<rect x="468.39" y="294.98" width="22.88" height="23.67" fill="#c32e31"/>
<rect x="490.87" y="294.98" width="22.88" height="23.67" fill="#b40426"/>
<rect x="513.35" y="294.98" width="22.88" height="23.67" fill="#ee8669"/>
<rect x="535.83" y="294.98" width="22.88" height="23.67" fill="#4c66d6"/>
<rect x="558.31" y="294.98" width="22.88" height="23.67" fill="#f7aa8c"/>
<rect x="580.79" y="294.98" width="22.88" height="23.67" fill="#a7c5fe"/>
<rect x="603.27" y="294.98" width="22.88" height="23.67" fill="#edd1c2"/>
<rect x="625.75" y="294.98" width="22.88" height="23.67" fill="#e3d9d3"/>
<rect x="648.23" y="294.98" width="22.88" height="23.67" fill="#e8d6cc"/>
<rect x="670.71" y="294.98" width="22.88" height="23.67" fill="#f7b497"/>
<rect x="693.19" y="294.98" width="22.88" height="23.67" fill="#89acfd"/>
<rect x="715.67" y="294.98" width="22.88" height="23.67" fill="#9fbfff"/>
<rect x="738.15" y="294.98" width="22.88" height="23.67" fill="#cedaeb"/>
<rect x="760.63" y="294.98" width="22.88" height="23.67" fill="#f59d7e"/>
<rect x="783.11" y="294.98" width="22.88" height="23.67" fill="#96b7ff"/>
<rect x="805.59" y="294.98" width="22.88" height="23.67" fill="#cedaeb"/>
<rect x="828.07" y="294.98" width="22.88" height="23.67" fill="#a7c5fe"/>
<rect x="850.55" y="294.98" width="22.88" height="23.67" fill="#cedaeb"/>
<rect x="873.03" y="294.98" width="22.88" height="23.67" fill="#cad8ef"/>
<rect x="895.51" y="294.98" width="22.88" height="23.67" fill="#adc9fd"/>
<rect x="918.00" y="294.98" width="22.88" height="23.67" fill="#f08b6e"/>
<rect x="940.48" y="294.98" width="22.88" height="23.67" fill="#f7ac8e"/>
<rect x="962.96" y="294.98" width="22.88" height="23.67" fill="#bad0f8"/>
<rect x="985.44" y="294.98" width="22.88" height="23.67" fill="#88abfd"/>
<rect x="1007.92" y="294.98" width="22.88" height="23.67" fill="#d7dce3"/>
<rect x="1030.40" y="294.98" width="22.88" height="23.67" fill="#bad0f8"/>
<rect x="1052.88" y="294.98" width="22.88" height="23.67" fill="#7a9df8"/>
<rect x="1075.36" y="294.98" width="22.88" height="23.67" fill="#e8d6cc"/>
<rect x="1097.84" y="294.98" width="22.88" height="23.67" fill="#ee8669"/>
<rect x="1120.32" y="294.98" width="22.88" height="23.67" fill="#cad8ef"/>
<rect x="221.10" y="318.25" width="22.88" height="23.67" fill="#9abbff"/>
<rect x="243.58" y="318.25" width="22.88" height="23.67" fill="#d9dce1"/>
<rect x="266.06" y="318.25" width="22.88" height="23.67" fill="#7295f4"/>
<rect x="288.54" y="318.25" width="22.88" height="23.67" fill="#89acfd"/>
<rect x="311.02" y="318.25" width="22.88" height="23.67" fill="#b1cbfc"/>
<rect x="333.50" y="318.25" width="22.88" height="23.67" fill="#cad8ef"/>
<rect x="355.98" y="318.25" width="22.88" height="23.67" fill="#93b5fe"/>
<rect x="378.46" y="318.25" width="22.88" height="23.67" fill="#dddcdc"/>
<rect x="400.94" y="318.25" width="22.88" height="23.67" fill="#b8122a"/>
<rect x="423.42" y="318.25" width="22.88" height="23.67" fill="#bcd2f7"/>
<rect x="445.90" y="318.25" width="22.88" height="23.67" fill="#f3c8b2"/>
<rect x="468.39" y="318.25" width="22.88" height="23.67" fill="#cc403a"/>
<rect x="490.87" y="318.25" width="22.88" height="23.67" fill="#ee8669"/>
<rect x="513.35" y="318.25" width="22.88" height="23.67" fill="#b40426"/>
<rect x="535.83" y="318.25" width="22.88" height="23.67" fill="#4c66d6"/>
<rect x="558.31" y="318.25" width="22.88" height="23.67" fill="#b8122a"/>
<rect x="580.79" y="318.25" width="22.88" height="23.67" fill="#92b4fe"/>
<rect x="603.27" y="318.25" width="22.88" height="23.67" fill="#7a9df8"/>
<rect x="625.75" y="318.25" width="22.88" height="23.67" fill="#d9dce1"/>
<rect x="648.23" y="318.25" width="22.88" height="23.67" fill="#c1d4f4"/>
<rect x="670.71" y="318.25" width="22.88" height="23.67" fill="#e4d9d2"/>
<rect x="693.19" y="318.25" width="22.88" height="23.67" fill="#89acfd"/>
<rect x="715.67" y="318.25" width="22.88" height="23.67" fill="#9abbff"/>
<rect x="738.15" y="318.25" width="22.88" height="23.67" fill="#cedaeb"/>
<rect x="760.63" y="318.25" width="22.88" height="23.67" fill="#f5c0a7"/>
<rect x="783.11" y="318.25" width="22.88" height="23.67" fill="#bcd2f7"/>
<rect x="805.59" y="318.25" width="22.88" height="23.67" fill="#bcd2f7"/>
<rect x="828.07" y="318.25" width="22.88" height="23.67" fill="#bcd2f7"/>
<rect x="850.55" y="318.25" width="22.88" height="23.67" fill="#e5d8d1"/>
<rect x="873.03" y="318.25" width="22.88" height="23.67" fill="#c1d4f4"/>
<rect x="895.51" y="318.25" width="22.88" height="23.67" fill="#d7dce3"/>
<rect x="918.00" y="318.25" width="22.88" height="23.67" fill="#e9d5cb"/>
<rect x="940.48" y="318.25" width="22.88" height="23.67" fill="#e5d8d1"/>
<rect x="962.96" y="318.25" width="22.88" height="23.67" fill="#88abfd"/>
<rect x="985.44" y="318.25" width="22.88" height="23.67" fill="#96b7ff"/>
<rect x="1007.92" y="318.25" width="22.88" height="23.67" fill="#bad0f8"/>
<rect x="1030.40" y="318.25" width="22.88" height="23.67" fill="#bfd3f6"/>
<rect x="1052.88" y="318.25" width="22.88" height="23.67" fill="#96b7ff"/>
<rect x="1075.36" y="318.25" width="22.88" height="23.67" fill="#c5d6f2"/>
<rect x="1097.84" y="318.25" width="22.88" height="23.67" fill="#ebd3c6"/>
<rect x="1120.32" y="318.25" width="22.88" height="23.67" fill="#cfdaea"/>
<rect x="221.10" y="341.52" width="22.88" height="23.67" fill="#f7bca1"/>
<rect x="243.58" y="341.52" width="22.88" height="23.67" fill="#eed0c0"/>
<rect x="266.06" y="341.52" width="22.88" height="23.67" fill="#f08b6e"/>
<rect x="288.54" y="341.52" width="22.88" height="23.67" fill="#ee8669"/>
<rect x="311.02" y="341.52" width="22.88" height="23.67" fill="#e9d5cb"/>
<rect x="333.50" y="341.52" width="22.88" height="23.67" fill="#e1dad6"/>
<rect x="355.98" y="341.52" width="22.88" height="23.67" fill="#edd1c2"/>
<rect x="378.46" y="341.52" width="22.88" height="23.67" fill="#f1ccb8"/>
<rect x="400.94" y="341.52" width="22.88" height="23.67" fill="#485fd1"/>
<rect x="423.42" y="341.52" width="22.88" height="23.67" fill="#f5c0a7"/>
<rect x="445.90" y="341.52" width="22.88" height="23.67" fill="#90b2fe"/>
<rect x="468.39" y="341.52" width="22.88" height="23.67" fill="#3b4cc0"/>
<rect x="490.87" y="341.52" width="22.88" height="23.67" fill="#4c66d6"/>
<rect x="513.35" y="341.52" width="22.88" height="23.67" fill="#4c66d6"/>
<rect x="535.83" y="341.52" width="22.88" height="23.67" fill="#b40426"/>
<rect x="558.31" y="341.52" width="22.88" height="23.67" fill="#6180e9"/>
<rect x="580.79" y="341.52" width="22.88" height="23.67" fill="#f7b99e"/>
<rect x="603.27" y="341.52" width="22.88" height="23.67" fill="#f3c8b2"/>
<rect x="625.75" y="341.52" width="22.88" height="23.67" fill="#bcd2f7"/>
<rect x="648.23" y="341.52" width="22.88" height="23.67" fill="#bbd1f8"/>
<rect x="670.71" y="341.52" width="22.88" height="23.67" fill="#93b5fe"/>
<rect x="693.19" y="341.52" width="22.88" height="23.67" fill="#f7b093"/>
<rect x="715.67" y="341.52" width="22.88" height="23.67" fill="#f7bca1"/>
<rect x="738.15" y="341.52" width="22.88" height="23.67" fill="#cedaeb"/>
<rect x="760.63" y="341.52" width="22.88" height="23.67" fill="#84a7fc"/>
<rect x="783.11" y="341.52" width="22.88" height="23.67" fill="#f5c0a7"/>
<rect x="805.59" y="341.52" width="22.88" height="23.67" fill="#dddcdc"/>
<rect x="828.07" y="341.52" width="22.88" height="23.67" fill="#f0cdbb"/>
<rect x="850.55" y="341.52" width="22.88" height="23.67" fill="#c1d4f4"/>
<rect x="873.03" y="341.52" width="22.88" height="23.67" fill="#f3c8b2"/>
<rect x="895.51" y="341.52" width="22.88" height="23.67" fill="#f4c5ad"/>
<rect x="918.00" y="341.52" width="22.88" height="23.67" fill="#88abfd"/>
<rect x="940.48" y="341.52" width="22.88" height="23.67" fill="#a7c5fe"/>
<rect x="962.96" y="341.52" width="22.88" height="23.67" fill="#f0cdbb"/>
<rect x="985.44" y="341.52" width="22.88" height="23.67" fill="#f29274"/>
<rect x="1007.92" y="341.52" width="22.88" height="23.67" fill="#dfdbd9"/>
<rect x="1030.40" y="341.52" width="22.88" height="23.67" fill="#f3c8b2"/>
<rect x="1052.88" y="341.52" width="22.88" height="23.67" fill="#ee8669"/>
<rect x="1075.36" y="341.52" width="22.88" height="23.67" fill="#d4dbe6"/>
<rect x="1097.84" y="341.52" width="22.88" height="23.67" fill="#88abfd"/>
<rect x="1120.32" y="341.52" width="22.88" height="23.67" fill="#edd1c2"/>
<rect x="221.10" y="364.80" width="22.88" height="23.67" fill="#a2c1ff"/>
<rect x="243.58" y="364.80" width="22.88" height="23.67" fill="#d7dce3"/>
<rect x="266.06" y="364.80" width="22.88" height="23.67" fill="#7ea1fa"/>
<rect x="288.54" y="364.80" width="22.88" height="23.67" fill="#9abbff"/>
<rect x="311.02" y="364.80" width="22.88" height="23.67" fill="#b1cbfc"/>
<rect x="333.50" y="364.80" width="22.88" height="23.67" fill="#cedaeb"/>
<rect x="355.98" y="364.80" width="22.88" height="23.67" fill="#90b2fe"/>
<rect x="378.46" y="364.80" width="22.88" height="23.67" fill="#e5d8d1"/>
<rect x="400.94" y="364.80" width="22.88" height="23.67" fill="#c32e31"/>
<rect x="423.42" y="364.80" width="22.88" height="23.67" fill="#c6d6f1"/>
<rect x="445.90" y="364.80" width="22.88" height="23.67" fill="#f3c8b2"/>
<rect x="468.39" y="364.80" width="22.88" height="23.67" fill="#e36b54"/>
<rect x="490.87" y="364.80" width="22.88" height="23.67" fill="#f7aa8c"/>
<rect x="513.35" y="364.80" width="22.88" height="23.67" fill="#b8122a"/>
<rect x="535.83" y="364.80" width="22.88" height="23.67" fill="#6180e9"/>
<rect x="558.31" y="364.80" width="22.88" height="23.67" fill="#b40426"/>
<rect x="580.79" y="364.80" width="22.88" height="23.67" fill="#93b5fe"/>
<rect x="603.27" y="364.80" width="22.88" height="23.67" fill="#7597f6"/>
<rect x="625.75" y="364.80" width="22.88" height="23.67" fill="#d6dce4"/>
<rect x="648.23" y="364.80" width="22.88" height="23.67" fill="#bad0f8"/>
<rect x="670.71" y="364.80" width="22.88" height="23.67" fill="#cedaeb"/>
<rect x="693.19" y="364.80" width="22.88" height="23.67" fill="#88abfd"/>
<rect x="715.67" y="364.80" width="22.88" height="23.67" fill="#9abbff"/>
<rect x="738.15" y="364.80" width="22.88" height="23.67" fill="#cedaeb"/>
<rect x="760.63" y="364.80" width="22.88" height="23.67" fill="#eed0c0"/>
<rect x="783.11" y="364.80" width="22.88" height="23.67" fill="#c5d6f2"/>
<rect x="805.59" y="364.80" width="22.88" height="23.67" fill="#bcd2f7"/>
<rect x="828.07" y="364.80" width="22.88" height="23.67" fill="#bcd2f7"/>
<rect x="850.55" y="364.80" width="22.88" height="23.67" fill="#e5d8d1"/>
<rect x="873.03" y="364.80" width="22.88" height="23.67" fill="#cedaeb"/>
<rect x="895.51" y="364.80" width="22.88" height="23.67" fill="#dddcdc"/>
<rect x="918.00" y="364.80" width="22.88" height="23.67" fill="#dddcdc"/>
<rect x="940.48" y="364.80" width="22.88" height="23.67" fill="#dddcdc"/>
<rect x="962.96" y="364.80" width="22.88" height="23.67" fill="#80a3fa"/>
<rect x="985.44" y="364.80" width="22.88" height="23.67" fill="#a7c5fe"/>
<rect x="1007.92" y="364.80" width="22.88" height="23.67" fill="#adc9fd"/>
<rect x="1030.40" y="364.80" width="22.88" height="23.67" fill="#cad8ef"/>
<rect x="1052.88" y="364.80" width="22.88" height="23.67" fill="#abc8fd"/>
<rect x="1075.36" y="364.80" width="22.88" height="23.67" fill="#bcd2f7"/>
<rect x="1097.84" y="364.80" width="22.88" height="23.67" fill="#dddcdc"/>
<rect x="1120.32" y="364.80" width="22.88" height="23.67" fill="#dddcdc"/>
<rect x="221.10" y="388.07" width="22.88" height="23.67" fill="#e8d6cc"/>
<rect x="243.58" y="388.07" width="22.88" height="23.67" fill="#c6d6f1"/>
<rect x="266.06" y="388.07" width="22.88" height="23.67" fill="#ee8669"/>
<rect x="288.54" y="388.07" width="22.88" height="23.67" fill="#f7ac8e"/>
<rect x="311.02" y="388.07" width="22.88" height="23.67" fill="#dddcdc"/>
<rect x="333.50" y="388.07" width="22.88" height="23.67" fill="#c5d6f2"/>
<rect x="355.98" y="388.07" width="22.88" height="23.67" fill="#f7ac8e"/>
<rect x="378.46" y="388.07" width="22.88" height="23.67" fill="#c1d4f4"/>
<rect x="400.94" y="388.07" width="22.88" height="23.67" fill="#90b2fe"/>
<rect x="423.42" y="388.07" width="22.88" height="23.67" fill="#ea7b60"/>
<rect x="445.90" y="388.07" width="22.88" height="23.67" fill="#bad0f8"/>
<rect x="468.39" y="388.07" width="22.88" height="23.67" fill="#93b5fe"/>
<rect x="490.87" y="388.07" width="22.88" height="23.67" fill="#a7c5fe"/>
<rect x="513.35" y="388.07" width="22.88" height="23.67" fill="#92b4fe"/>
<rect x="535.83" y="388.07" width="22.88" height="23.67" fill="#f7b99e"/>
<rect x="558.31" y="388.07" width="22.88" height="23.67" fill="#93b5fe"/>
<rect x="580.79" y="388.07" width="22.88" height="23.67" fill="#b40426"/>
<rect x="603.27" y="388.07" width="22.88" height="23.67" fill="#e5d8d1"/>
<rect x="625.75" y="388.07" width="22.88" height="23.67" fill="#a6c4fe"/>
<rect x="648.23" y="388.07" width="22.88" height="23.67" fill="#b3cdfb"/>
<rect x="670.71" y="388.07" width="22.88" height="23.67" fill="#bcd2f7"/>
<rect x="693.19" y="388.07" width="22.88" height="23.67" fill="#e5d8d1"/>
<rect x="715.67" y="388.07" width="22.88" height="23.67" fill="#d9dce1"/>
<rect x="738.15" y="388.07" width="22.88" height="23.67" fill="#c6d6f1"/>
<rect x="760.63" y="388.07" width="22.88" height="23.67" fill="#bad0f8"/>
<rect x="783.11" y="388.07" width="22.88" height="23.67" fill="#d7dce3"/>
<rect x="805.59" y="388.07" width="22.88" height="23.67" fill="#e4d9d2"/>
<rect x="828.07" y="388.07" width="22.88" height="23.67" fill="#e4d9d2"/>
<rect x="850.55" y="388.07" width="22.88" height="23.67" fill="#bad0f8"/>
<rect x="873.03" y="388.07" width="22.88" height="23.67" fill="#bcd2f7"/>
<rect x="895.51" y="388.07" width="22.88" height="23.67" fill="#e8d6cc"/>
<rect x="918.00" y="388.07" width="22.88" height="23.67" fill="#bad0f8"/>
<rect x="940.48" y="388.07" width="22.88" height="23.67" fill="#dddcdc"/>
<rect x="962.96" y="388.07" width="22.88" height="23.67" fill="#dddcdc"/>
<rect x="985.44" y="388.07" width="22.88" height="23.67" fill="#f1ccb8"/>
<rect x="1007.92" y="388.07" width="22.88" height="23.67" fill="#bcd2f7"/>
<rect x="1030.40" y="388.07" width="22.88" height="23.67" fill="#f2cab5"/>
<rect x="1052.88" y="388.07" width="22.88" height="23.67" fill="#f2cab5"/>
<rect x="1075.36" y="388.07" width="22.88" height="23.67" fill="#e4d9d2"/>
<rect x="1097.84" y="388.07" width="22.88" height="23.67" fill="#c6d6f1"/>
<rect x="1120.32" y="388.07" width="22.88" height="23.67" fill="#e9d5cb"/>
<rect x="221.10" y="411.34" width="22.88" height="23.67" fill="#e4d9d2"/>
<rect x="243.58" y="411.34" width="22.88" height="23.67" fill="#bcd2f7"/>
<rect x="266.06" y="411.34" width="22.88" height="23.67" fill="#f7b99e"/>
<rect x="288.54" y="411.34" width="22.88" height="23.67" fill="#e8d6cc"/>
<rect x="311.02" y="411.34" width="22.88" height="23.67" fill="#e5d8d1"/>
<rect x="333.50" y="411.34" width="22.88" height="23.67" fill="#cedaeb"/>
<rect x="355.98" y="411.34" width="22.88" height="23.67" fill="#f7b497"/>
<rect x="378.46" y="411.34" width="22.88" height="23.67" fill="#9abbff"/>
<rect x="400.94" y="411.34" width="22.88" height="23.67" fill="#89acfd"/>
<rect x="423.42" y="411.34" width="22.88" height="23.67" fill="#cad8ef"/>
<rect x="445.90" y="411.34" width="22.88" height="23.67" fill="#e5d8d1"/>
<rect x="468.39" y="411.34" width="22.88" height="23.67" fill="#bcd2f7"/>
<rect x="490.87" y="411.34" width="22.88" height="23.67" fill="#edd1c2"/>
<rect x="513.35" y="411.34" width="22.88" height="23.67" fill="#7a9df8"/>
<rect x="535.83" y="411.34" width="22.88" height="23.67" fill="#f3c8b2"/>
<rect x="558.31" y="411.34" width="22.88" height="23.67" fill="#7597f6"/>
<rect x="580.79" y="411.34" width="22.88" height="23.67" fill="#e5d8d1"/>
<rect x="603.27" y="411.34" width="22.88" height="23.67" fill="#b40426"/>
<rect x="625.75" y="411.34" width="22.88" height="23.67" fill="#ebd3c6"/>
<rect x="648.23" y="411.34" width="22.88" height="23.67" fill="#f5c4ac"/>
<rect x="670.71" y="411.34" width="22.88" height="23.67" fill="#f0cdbb"/>
<rect x="693.19" y="411.34" width="22.88" height="23.67" fill="#d4dbe6"/>
<rect x="715.67" y="411.34" width="22.88" height="23.67" fill="#e3d9d3"/>
<rect x="738.15" y="411.34" width="22.88" height="23.67" fill="#c5d6f2"/>
<rect x="760.63" y="411.34" width="22.88" height="23.67" fill="#e1dad6"/>
<rect x="783.11" y="411.34" width="22.88" height="23.67" fill="#c5d6f2"/>
<rect x="805.59" y="411.34" width="22.88" height="23.67" fill="#e1dad6"/>
<rect x="828.07" y="411.34" width="22.88" height="23.67" fill="#b6cefa"/>
<rect x="850.55" y="411.34" width="22.88" height="23.67" fill="#b1cbfc"/>
<rect x="873.03" y="411.34" width="22.88" height="23.67" fill="#f7b497"/>
<rect x="895.51" y="411.34" width="22.88" height="23.67" fill="#b1cbfc"/>
<rect x="918.00" y="411.34" width="22.88" height="23.67" fill="#f6bda2"/>
<rect x="940.48" y="411.34" width="22.88" height="23.67" fill="#f0cdbb"/>
<rect x="962.96" y="411.34" width="22.88" height="23.67" fill="#f5c0a7"/>
<rect x="985.44" y="411.34" width="22.88" height="23.67" fill="#e0dbd8"/>
<rect x="1007.92" y="411.34" width="22.88" height="23.67" fill="#f0cdbb"/>
<rect x="1030.40" y="411.34" width="22.88" height="23.67" fill="#c6d6f1"/>
<rect x="1052.88" y="411.34" width="22.88" height="23.67" fill="#e0dbd8"/>
<rect x="1075.36" y="411.34" width="22.88" height="23.67" fill="#f5c4ac"/>
<rect x="1097.84" y="411.34" width="22.88" height="23.67" fill="#f7b99e"/>
<rect x="1120.32" y="411.34" width="22.88" height="23.67" fill="#cad8ef"/>
<rect x="221.10" y="434.62" width="22.88" height="23.67" fill="#c6d6f1"/>
<rect x="243.58" y="434.62" width="22.88" height="23.67" fill="#b6cefa"/>
<rect x="266.06" y="434.62" width="22.88" height="23.67" fill="#bcd2f7"/>
<rect x="288.54" y="434.62" width="22.88" height="23.67" fill="#93b5fe"/>
<rect x="311.02" y="434.62" width="22.88" height="23.67" fill="#dfdbd9"/>
<rect x="333.50" y="434.62" width="22.88" height="23.67" fill="#d9dce1"/>
<rect x="355.98" y="434.62" width="22.88" height="23.67" fill="#e4d9d2"/>
<rect x="378.46" y="434.62" width="22.88" height="23.67" fill="#bad0f8"/>
<rect x="400.94" y="434.62" width="22.88" height="23.67" fill="#d4dbe6"/>
<rect x="423.42" y="434.62" width="22.88" height="23.67" fill="#84a7fc"/>
<rect x="445.90" y="434.62" width="22.88" height="23.67" fill="#bfd3f6"/>
<rect x="468.39" y="434.62" width="22.88" height="23.67" fill="#e1dad6"/>
<rect x="490.87" y="434.62" width="22.88" height="23.67" fill="#e3d9d3"/>
<rect x="513.35" y="434.62" width="22.88" height="23.67" fill="#d9dce1"/>
<rect x="535.83" y="434.62" width="22.88" height="23.67" fill="#bcd2f7"/>
<rect x="558.31" y="434.62" width="22.88" height="23.67" fill="#d6dce4"/>
<rect x="580.79" y="434.62" width="22.88" height="23.67" fill="#a6c4fe"/>
<rect x="603.27" y="434.62" width="22.88" height="23.67" fill="#ebd3c6"/>
<rect x="625.75" y="434.62" width="22.88" height="23.67" fill="#b40426"/>
<rect x="648.23" y="434.62" width="22.88" height="23.67" fill="#f29274"/>
<rect x="670.71" y="434.62" width="22.88" height="23.67" fill="#f3c8b2"/>
<rect x="693.19" y="434.62" width="22.88" height="23.67" fill="#bfd3f6"/>
<rect x="715.67" y="434.62" width="22.88" height="23.67" fill="#c6d6f1"/>
<rect x="738.15" y="434.62" width="22.88" height="23.67" fill="#eed0c0"/>
<rect x="760.63" y="434.62" width="22.88" height="23.67" fill="#f1ccb8"/>
<rect x="783.11" y="434.62" width="22.88" height="23.67" fill="#e0dbd8"/>
<rect x="805.59" y="434.62" width="22.88" height="23.67" fill="#e4d9d2"/>
<rect x="828.07" y="434.62" width="22.88" height="23.67" fill="#dddcdc"/>
<rect x="850.55" y="434.62" width="22.88" height="23.67" fill="#edd1c2"/>
<rect x="873.03" y="434.62" width="22.88" height="23.67" fill="#ebd3c6"/>
<rect x="895.51" y="434.62" width="22.88" height="23.67" fill="#9abbff"/>
<rect x="918.00" y="434.62" width="22.88" height="23.67" fill="#edd1c2"/>
<rect x="940.48" y="434.62" width="22.88" height="23.67" fill="#d9dce1"/>
<rect x="962.96" y="434.62" width="22.88" height="23.67" fill="#f5c0a7"/>
<rect x="985.44" y="434.62" width="22.88" height="23.67" fill="#a7c5fe"/>
<rect x="1007.92" y="434.62" width="22.88" height="23.67" fill="#f7b093"/>
<rect x="1030.40" y="434.62" width="22.88" height="23.67" fill="#6180e9"/>
<rect x="1052.88" y="434.62" width="22.88" height="23.67" fill="#a7c5fe"/>
<rect x="1075.36" y="434.62" width="22.88" height="23.67" fill="#f0cdbb"/>
<rect x="1097.84" y="434.62" width="22.88" height="23.67" fill="#f7b99e"/>
<rect x="1120.32" y="434.62" width="22.88" height="23.67" fill="#abc8fd"/>
<rect x="221.10" y="457.89" width="22.88" height="23.67" fill="#c6d6f1"/>
<rect x="243.58" y="457.89" width="22.88" height="23.67" fill="#abc8fd"/>
<rect x="266.06" y="457.89" width="22.88" height="23.67" fill="#bcd2f7"/>
<rect x="288.54" y="457.89" width="22.88" height="23.67" fill="#80a3fa"/>
<rect x="311.02" y="457.89" width="22.88" height="23.67" fill="#e2dad5"/>
<rect x="333.50" y="457.89" width="22.88" height="23.67" fill="#d4dbe6"/>
<rect x="355.98" y="457.89" width="22.88" height="23.67" fill="#f0cdbb"/>
<rect x="378.46" y="457.89" width="22.88" height="23.67" fill="#b6cefa"/>
<rect x="400.94" y="457.89" width="22.88" height="23.67" fill="#c1d4f4"/>
<rect x="423.42" y="457.89" width="22.88" height="23.67" fill="#84a7fc"/>
<rect x="445.90" y="457.89" width="22.88" height="23.67" fill="#e3d9d3"/>
<rect x="468.39" y="457.89" width="22.88" height="23.67" fill="#d7dce3"/>
<rect x="490.87" y="457.89" width="22.88" height="23.67" fill="#e8d6cc"/>
<rect x="513.35" y="457.89" width="22.88" height="23.67" fill="#c1d4f4"/>
<rect x="535.83" y="457.89" width="22.88" height="23.67" fill="#bbd1f8"/>
<rect x="558.31" y="457.89" width="22.88" height="23.67" fill="#bad0f8"/>
<rect x="580.79" y="457.89" width="22.88" height="23.67" fill="#b3cdfb"/>
<rect x="603.27" y="457.89" width="22.88" height="23.67" fill="#f5c4ac"/>
<rect x="625.75" y="457.89" width="22.88" height="23.67" fill="#f29274"/>
<rect x="648.23" y="457.89" width="22.88" height="23.67" fill="#b40426"/>
<rect x="670.71" y="457.89" width="22.88" height="23.67" fill="#e7745b"/>
<rect x="693.19" y="457.89" width="22.88" height="23.67" fill="#e8d6cc"/>
<rect x="715.67" y="457.89" width="22.88" height="23.67" fill="#cfdaea"/>
<rect x="738.15" y="457.89" width="22.88" height="23.67" fill="#d9dce1"/>
<rect x="760.63" y="457.89" width="22.88" height="23.67" fill="#f4c5ad"/>
<rect x="783.11" y="457.89" width="22.88" height="23.67" fill="#b1cbfc"/>
<rect x="805.59" y="457.89" width="22.88" height="23.67" fill="#e5d8d1"/>
<rect x="828.07" y="457.89" width="22.88" height="23.67" fill="#d7dce3"/>
<rect x="850.55" y="457.89" width="22.88" height="23.67" fill="#edd1c2"/>
<rect x="873.03" y="457.89" width="22.88" height="23.67" fill="#cedaeb"/>
<rect x="895.51" y="457.89" width="22.88" height="23.67" fill="#7a9df8"/>
<rect x="918.00" y="457.89" width="22.88" height="23.67" fill="#f5c0a7"/>
<rect x="940.48" y="457.89" width="22.88" height="23.67" fill="#e4d9d2"/>
<rect x="962.96" y="457.89" width="22.88" height="23.67" fill="#f29274"/>
<rect x="985.44" y="457.89" width="22.88" height="23.67" fill="#93b5fe"/>
<rect x="1007.92" y="457.89" width="22.88" height="23.67" fill="#f7ac8e"/>
<rect x="1030.40" y="457.89" width="22.88" height="23.67" fill="#96b7ff"/>
<rect x="1052.88" y="457.89" width="22.88" height="23.67" fill="#a5c3fe"/>
<rect x="1075.36" y="457.89" width="22.88" height="23.67" fill="#d9dce1"/>
<rect x="1097.84" y="457.89" width="22.88" height="23.67" fill="#f7b599"/>
<rect x="1120.32" y="457.89" width="22.88" height="23.67" fill="#7a9df8"/>
<rect x="221.10" y="481.16" width="22.88" height="23.67" fill="#cad8ef"/>
<rect x="243.58" y="481.16" width="22.88" height="23.67" fill="#a7c5fe"/>
<rect x="266.06" y="481.16" width="22.88" height="23.67" fill="#c1d4f4"/>
<rect x="288.54" y="481.16" width="22.88" height="23.67" fill="#84a7fc"/>
<rect x="311.02" y="481.16" width="22.88" height="23.67" fill="#e2dad5"/>
<rect x="333.50" y="481.16" width="22.88" height="23.67" fill="#cedaeb"/>
<rect x="355.98" y="481.16" width="22.88" height="23.67" fill="#f5c0a7"/>
<rect x="378.46" y="481.16" width="22.88" height="23.67" fill="#bad0f8"/>
<rect x="400.94" y="481.16" width="22.88" height="23.67" fill="#e5d8d1"/>
<rect x="423.42" y="481.16" width="22.88" height="23.67" fill="#88abfd"/>
<rect x="445.90" y="481.16" width="22.88" height="23.67" fill="#f4c5ad"/>
<rect x="468.39" y="481.16" width="22.88" height="23.67" fill="#f4c5ad"/>
<rect x="490.87" y="481.16" width="22.88" height="23.67" fill="#f7b497"/>
<rect x="513.35" y="481.16" width="22.88" height="23.67" fill="#e4d9d2"/>
<rect x="535.83" y="481.16" width="22.88" height="23.67" fill="#93b5fe"/>
<rect x="558.31" y="481.16" width="22.88" height="23.67" fill="#cedaeb"/>
<rect x="580.79" y="481.16" width="22.88" height="23.67" fill="#bcd2f7"/>
<rect x="603.27" y="481.16" width="22.88" height="23.67" fill="#f0cdbb"/>
<rect x="625.75" y="481.16" width="22.88" height="23.67" fill="#f3c8b2"/>
<rect x="648.23" y="481.16" width="22.88" height="23.67" fill="#e7745b"/>
<rect x="670.71" y="481.16" width="22.88" height="23.67" fill="#b40426"/>
<rect x="693.19" y="481.16" width="22.88" height="23.67" fill="#e8d6cc"/>
<rect x="715.67" y="481.16" width="22.88" height="23.67" fill="#cad8ef"/>
<rect x="738.15" y="481.16" width="22.88" height="23.67" fill="#cad8ef"/>
<rect x="760.63" y="481.16" width="22.88" height="23.67" fill="#f5c0a7"/>
<rect x="783.11" y="481.16" width="22.88" height="23.67" fill="#93b5fe"/>
<rect x="805.59" y="481.16" width="22.88" height="23.67" fill="#e3d9d3"/>
<rect x="828.07" y="481.16" width="22.88" height="23.67" fill="#cad8ef"/>
<rect x="850.55" y="481.16" width="22.88" height="23.67" fill="#f5c0a7"/>
<rect x="873.03" y="481.16" width="22.88" height="23.67" fill="#bad0f8"/>
<rect x="895.51" y="481.16" width="22.88" height="23.67" fill="#7597f6"/>
<rect x="918.00" y="481.16" width="22.88" height="23.67" fill="#f7b99e"/>
<rect x="940.48" y="481.16" width="22.88" height="23.67" fill="#f0cdbb"/>
<rect x="962.96" y="481.16" width="22.88" height="23.67" fill="#f29274"/>
<rect x="985.44" y="481.16" width="22.88" height="23.67" fill="#84a7fc"/>
<rect x="1007.92" y="481.16" width="22.88" height="23.67" fill="#eed0c0"/>
<rect x="1030.40" y="481.16" width="22.88" height="23.67" fill="#a2c1ff"/>
<rect x="1052.88" y="481.16" width="22.88" height="23.67" fill="#9abbff"/>
<rect x="1075.36" y="481.16" width="22.88" height="23.67" fill="#c5d6f2"/>
<rect x="1097.84" y="481.16" width="22.88" height="23.67" fill="#f7b093"/>
<rect x="1120.32" y="481.16" width="22.88" height="23.67" fill="#80a3fa"/>
<rect x="221.10" y="504.44" width="22.88" height="23.67" fill="#eed0c0"/>
<rect x="243.58" y="504.44" width="22.88" height="23.67" fill="#e0dbd8"/>
<rect x="266.06" y="504.44" width="22.88" height="23.67" fill="#f5c4ac"/>
<rect x="288.54" y="504.44" width="22.88" height="23.67" fill="#f0cdbb"/>
<rect x="311.02" y="504.44" width="22.88" height="23.67" fill="#e8d6cc"/>
<rect x="333.50" y="504.44" width="22.88" height="23.67" fill="#e3d9d3"/>
<rect x="355.98" y="504.44" width="22.88" height="23.67" fill="#e9d5cb"/>
<rect x="378.46" y="504.44" width="22.88" height="23.67" fill="#d9dce1"/>
<rect x="400.94" y="504.44" width="22.88" height="23.67" fill="#84a7fc"/>
<rect x="423.42" y="504.44" width="22.88" height="23.67" fill="#dfdbd9"/>
<rect x="445.90" y="504.44" width="22.88" height="23.67" fill="#cfdaea"/>
<rect x="468.39" y="504.44" width="22.88" height="23.67" fill="#84a7fc"/>
<rect x="490.87" y="504.44" width="22.88" height="23.67" fill="#89acfd"/>
<rect x="513.35" y="504.44" width="22.88" height="23.67" fill="#89acfd"/>
<rect x="535.83" y="504.44" width="22.88" height="23.67" fill="#f7b093"/>
<rect x="558.31" y="504.44" width="22.88" height="23.67" fill="#88abfd"/>
<rect x="580.79" y="504.44" width="22.88" height="23.67" fill="#e5d8d1"/>
<rect x="603.27" y="504.44" width="22.88" height="23.67" fill="#d4dbe6"/>
<rect x="625.75" y="504.44" width="22.88" height="23.67" fill="#bfd3f6"/>
<rect x="648.23" y="504.44" width="22.88" height="23.67" fill="#e8d6cc"/>
<rect x="670.71" y="504.44" width="22.88" height="23.67" fill="#e8d6cc"/>
<rect x="693.19" y="504.44" width="22.88" height="23.67" fill="#b40426"/>
<rect x="715.67" y="504.44" width="22.88" height="23.67" fill="#f59d7e"/>
<rect x="738.15" y="504.44" width="22.88" height="23.67" fill="#dbdcde"/>
<rect x="760.63" y="504.44" width="22.88" height="23.67" fill="#9dbdff"/>
<rect x="783.11" y="504.44" width="22.88" height="23.67" fill="#cedaeb"/>
<rect x="805.59" y="504.44" width="22.88" height="23.67" fill="#d1dae9"/>
<rect x="828.07" y="504.44" width="22.88" height="23.67" fill="#e3d9d3"/>
<rect x="850.55" y="504.44" width="22.88" height="23.67" fill="#dddcdc"/>
<rect x="873.03" y="504.44" width="22.88" height="23.67" fill="#b1cbfc"/>
<rect x="895.51" y="504.44" width="22.88" height="23.67" fill="#c1d4f4"/>
<rect x="918.00" y="504.44" width="22.88" height="23.67" fill="#c6d6f1"/>
<rect x="940.48" y="504.44" width="22.88" height="23.67" fill="#a7c5fe"/>
<rect x="962.96" y="504.44" width="22.88" height="23.67" fill="#f29274"/>
<rect x="985.44" y="504.44" width="22.88" height="23.67" fill="#e3d9d3"/>
<rect x="1007.92" y="504.44" width="22.88" height="23.67" fill="#cad8ef"/>
<rect x="1030.40" y="504.44" width="22.88" height="23.67" fill="#f7ac8e"/>
<rect x="1052.88" y="504.44" width="22.88" height="23.67" fill="#e8d6cc"/>
<rect x="1075.36" y="504.44" width="22.88" height="23.67" fill="#90b2fe"/>
<rect x="1097.84" y="504.44" width="22.88" height="23.67" fill="#a5c3fe"/>
<rect x="1120.32" y="504.44" width="22.88" height="23.67" fill="#9abbff"/>
<rect x="221.10" y="527.71" width="22.88" height="23.67" fill="#e8d6cc"/>
<rect x="243.58" y="527.71" width="22.88" height="23.67" fill="#e5d8d1"/>
<rect x="266.06" y="527.71" width="22.88" height="23.67" fill="#e5d8d1"/>
<rect x="288.54" y="527.71" width="22.88" height="23.67" fill="#f4c5ad"/>
<rect x="311.02" y="527.71" width="22.88" height="23.67" fill="#e3d9d3"/>
<rect x="333.50" y="527.71" width="22.88" height="23.67" fill="#e4d9d2"/>
<rect x="355.98" y="527.71" width="22.88" height="23.67" fill="#cad8ef"/>
<rect x="378.46" y="527.71" width="22.88" height="23.67" fill="#a2c1ff"/>
<rect x="400.94" y="527.71" width="22.88" height="23.67" fill="#9fbfff"/>
<rect x="423.42" y="527.71" width="22.88" height="23.67" fill="#e5d8d1"/>
<rect x="445.90" y="527.71" width="22.88" height="23.67" fill="#bcd2f7"/>
<rect x="468.39" y="527.71" width="22.88" height="23.67" fill="#9abbff"/>
<rect x="490.87" y="527.71" width="22.88" height="23.67" fill="#9fbfff"/>
<rect x="513.35" y="527.71" width="22.88" height="23.67" fill="#9abbff"/>
<rect x="535.83" y="527.71" width="22.88" height="23.67" fill="#f7bca1"/>
<rect x="558.31" y="527.71" width="22.88" height="23.67" fill="#9abbff"/>
<rect x="580.79" y="527.71" width="22.88" height="23.67" fill="#d9dce1"/>
<rect x="603.27" y="527.71" width="22.88" height="23.67" fill="#e3d9d3"/>
<rect x="625.75" y="527.71" width="22.88" height="23.67" fill="#c6d6f1"/>
<rect x="648.23" y="527.71" width="22.88" height="23.67" fill="#cfdaea"/>
<rect x="670.71" y="527.71" width="22.88" height="23.67" fill="#cad8ef"/>
<rect x="693.19" y="527.71" width="22.88" height="23.67" fill="#f59d7e"/>
<rect x="715.67" y="527.71" width="22.88" height="23.67" fill="#b40426"/>
<rect x="738.15" y="527.71" width="22.88" height="23.67" fill="#f1cdba"/>
<rect x="760.63" y="527.71" width="22.88" height="23.67" fill="#c6d6f1"/>
<rect x="783.11" y="527.71" width="22.88" height="23.67" fill="#f1cdba"/>
<rect x="805.59" y="527.71" width="22.88" height="23.67" fill="#dadce0"/>
<rect x="828.07" y="527.71" width="22.88" height="23.67" fill="#d2dbe8"/>
<rect x="850.55" y="527.71" width="22.88" height="23.67" fill="#dddcdc"/>
<rect x="873.03" y="527.71" width="22.88" height="23.67" fill="#b1cbfc"/>
<rect x="895.51" y="527.71" width="22.88" height="23.67" fill="#e4d9d2"/>
<rect x="918.00" y="527.71" width="22.88" height="23.67" fill="#f1ccb8"/>
<rect x="940.48" y="527.71" width="22.88" height="23.67" fill="#90b2fe"/>
<rect x="962.96" y="527.71" width="22.88" height="23.67" fill="#f7b093"/>
<rect x="985.44" y="527.71" width="22.88" height="23.67" fill="#cfdaea"/>
<rect x="1007.92" y="527.71" width="22.88" height="23.67" fill="#cad8ef"/>
<rect x="1030.40" y="527.71" width="22.88" height="23.67" fill="#eed0c0"/>
<rect x="1052.88" y="527.71" width="22.88" height="23.67" fill="#cad8ef"/>
<rect x="1075.36" y="527.71" width="22.88" height="23.67" fill="#90b2fe"/>
<rect x="1097.84" y="527.71" width="22.88" height="23.67" fill="#adc9fd"/>
<rect x="1120.32" y="527.71" width="22.88" height="23.67" fill="#adc9fd"/>
<rect x="221.10" y="550.98" width="22.88" height="23.67" fill="#e8d6cc"/>
<rect x="243.58" y="550.98" width="22.88" height="23.67" fill="#d7dce3"/>
<rect x="266.06" y="550.98" width="22.88" height="23.67" fill="#dfdbd9"/>
<rect x="288.54" y="550.98" width="22.88" height="23.67" fill="#cad8ef"/>
<rect x="311.02" y="550.98" width="22.88" height="23.67" fill="#e9d5cb"/>
<rect x="333.50" y="550.98" width="22.88" height="23.67" fill="#e8d6cc"/>
<rect x="355.98" y="550.98" width="22.88" height="23.67" fill="#e4d9d2"/>
<rect x="378.46" y="550.98" width="22.88" height="23.67" fill="#c1d4f4"/>
<rect x="400.94" y="550.98" width="22.88" height="23.67" fill="#cad8ef"/>
<rect x="423.42" y="550.98" width="22.88" height="23.67" fill="#c6d6f1"/>
<rect x="445.90" y="550.98" width="22.88" height="23.67" fill="#e0dbd8"/>
<rect x="468.39" y="550.98" width="22.88" height="23.67" fill="#cedaeb"/>
<rect x="490.87" y="550.98" width="22.88" height="23.67" fill="#cedaeb"/>
<rect x="513.35" y="550.98" width="22.88" height="23.67" fill="#cedaeb"/>
<rect x="535.83" y="550.98" width="22.88" height="23.67" fill="#cedaeb"/>
<rect x="558.31" y="550.98" width="22.88" height="23.67" fill="#cedaeb"/>
<rect x="580.79" y="550.98" width="22.88" height="23.67" fill="#c6d6f1"/>
<rect x="603.27" y="550.98" width="22.88" height="23.67" fill="#c5d6f2"/>
<rect x="625.75" y="550.98" width="22.88" height="23.67" fill="#eed0c0"/>
<rect x="648.23" y="550.98" width="22.88" height="23.67" fill="#d9dce1"/>
<rect x="670.71" y="550.98" width="22.88" height="23.67" fill="#cad8ef"/>
<rect x="693.19" y="550.98" width="22.88" height="23.67" fill="#dbdcde"/>
<rect x="715.67" y="550.98" width="22.88" height="23.67" fill="#f1cdba"/>
<rect x="738.15" y="550.98" width="22.88" height="23.67" fill="#b40426"/>
<rect x="760.63" y="550.98" width="22.88" height="23.67" fill="#f3c8b2"/>
<rect x="783.11" y="550.98" width="22.88" height="23.67" fill="#f3c8b2"/>
<rect x="805.59" y="550.98" width="22.88" height="23.67" fill="#d9dce1"/>
<rect x="828.07" y="550.98" width="22.88" height="23.67" fill="#e5d8d1"/>
<rect x="850.55" y="550.98" width="22.88" height="23.67" fill="#e5d8d1"/>
<rect x="873.03" y="550.98" width="22.88" height="23.67" fill="#c4d5f3"/>
<rect x="895.51" y="550.98" width="22.88" height="23.67" fill="#f7b99e"/>
<rect x="918.00" y="550.98" width="22.88" height="23.67" fill="#f0cdbb"/>
<rect x="940.48" y="550.98" width="22.88" height="23.67" fill="#90b2fe"/>
<rect x="962.96" y="550.98" width="22.88" height="23.67" fill="#f0cdbb"/>
<rect x="985.44" y="550.98" width="22.88" height="23.67" fill="#b1cbfc"/>
<rect x="1007.92" y="550.98" width="22.88" height="23.67" fill="#edd1c2"/>
<rect x="1030.40" y="550.98" width="22.88" height="23.67" fill="#a2c1ff"/>
<rect x="1052.88" y="550.98" width="22.88" height="23.67" fill="#9fbfff"/>
<rect x="1075.36" y="550.98" width="22.88" height="23.67" fill="#b1cbfc"/>
<rect x="1097.84" y="550.98" width="22.88" height="23.67" fill="#dddcdc"/>
<rect x="1120.32" y="550.98" width="22.88" height="23.67" fill="#d9dce1"/>
<rect x="221.10" y="574.26" width="22.88" height="23.67" fill="#cad8ef"/>
<rect x="243.58" y="574.26" width="22.88" height="23.67" fill="#bad0f8"/>
<rect x="266.06" y="574.26" width="22.88" height="23.67" fill="#bcd2f7"/>
<rect x="288.54" y="574.26" width="22.88" height="23.67" fill="#9fbfff"/>
<rect x="311.02" y="574.26" width="22.88" height="23.67" fill="#d9dce1"/>
<rect x="333.50" y="574.26" width="22.88" height="23.67" fill="#d4dbe6"/>
<rect x="355.98" y="574.26" width="22.88" height="23.67" fill="#e4d9d2"/>
<rect x="378.46" y="574.26" width="22.88" height="23.67" fill="#a7c5fe"/>
<rect x="400.94" y="574.26" width="22.88" height="23.67" fill="#f6bda2"/>
<rect x="423.42" y="574.26" width="22.88" height="23.67" fill="#b1cbfc"/>
<rect x="445.90" y="574.26" width="22.88" height="23.67" fill="#f4c5ad"/>
<rect x="468.39" y="574.26" width="22.88" height="23.67" fill="#f7aa8c"/>
<rect x="490.87" y="574.26" width="22.88" height="23.67" fill="#f59d7e"/>
<rect x="513.35" y="574.26" width="22.88" height="23.67" fill="#f5c0a7"/>
<rect x="535.83" y="574.26" width="22.88" height="23.67" fill="#84a7fc"/>
<rect x="558.31" y="574.26" width="22.88" height="23.67" fill="#eed0c0"/>
<rect x="580.79" y="574.26" width="22.88" height="23.67" fill="#bad0f8"/>
<rect x="603.27" y="574.26" width="22.88" height="23.67" fill="#e1dad6"/>
<rect x="625.75" y="574.26" width="22.88" height="23.67" fill="#f1ccb8"/>
<rect x="648.23" y="574.26" width="22.88" height="23.67" fill="#f4c5ad"/>
<rect x="670.71" y="574.26" width="22.88" height="23.67" fill="#f5c0a7"/>
<rect x="693.19" y="574.26" width="22.88" height="23.67" fill="#9dbdff"/>
<rect x="715.67" y="574.26" width="22.88" height="23.67" fill="#c6d6f1"/>
<rect x="738.15" y="574.26" width="22.88" height="23.67" fill="#f3c8b2"/>
<rect x="760.63" y="574.26" width="22.88" height="23.67" fill="#b40426"/>
<rect x="783.11" y="574.26" width="22.88" height="23.67" fill="#cad8ef"/>
<rect x="805.59" y="574.26" width="22.88" height="23.67" fill="#edd1c2"/>
<rect x="828.07" y="574.26" width="22.88" height="23.67" fill="#ccd9ed"/>
<rect x="850.55" y="574.26" width="22.88" height="23.67" fill="#e5d8d1"/>
<rect x="873.03" y="574.26" width="22.88" height="23.67" fill="#bcd2f7"/>
<rect x="895.51" y="574.26" width="22.88" height="23.67" fill="#cad8ef"/>
<rect x="918.00" y="574.26" width="22.88" height="23.67" fill="#f7b093"/>
<rect x="940.48" y="574.26" width="22.88" height="23.67" fill="#dddcdc"/>
<rect x="962.96" y="574.26" width="22.88" height="23.67" fill="#e5d8d1"/>
<rect x="985.44" y="574.26" width="22.88" height="23.67" fill="#688aef"/>
<rect x="1007.92" y="574.26" width="22.88" height="23.67" fill="#e4d9d2"/>
<rect x="1030.40" y="574.26" width="22.88" height="23.67" fill="#88abfd"/>
<rect x="1052.88" y="574.26" width="22.88" height="23.67" fill="#7a9df8"/>
<rect x="1075.36" y="574.26" width="22.88" height="23.67" fill="#e9d5cb"/>
<rect x="1097.84" y="574.26" width="22.88" height="23.67" fill="#f7ac8e"/>
<rect x="1120.32" y="574.26" width="22.88" height="23.67" fill="#e8d6cc"/>
<rect x="221.10" y="597.53" width="22.88" height="23.67" fill="#e2dad5"/>
<rect x="243.58" y="597.53" width="22.88" height="23.67" fill="#dfdbd9"/>
<rect x="266.06" y="597.53" width="22.88" height="23.67" fill="#e5d8d1"/>
<rect x="288.54" y="597.53" width="22.88" height="23.67" fill="#eed0c0"/>
<rect x="311.02" y="597.53" width="22.88" height="23.67" fill="#d9dce1"/>
<rect x="333.50" y="597.53" width="22.88" height="23.67" fill="#d9dce1"/>
<rect x="355.98" y="597.53" width="22.88" height="23.67" fill="#d4dbe6"/>
<rect x="378.46" y="597.53" width="22.88" height="23.67" fill="#d7dce3"/>
<rect x="400.94" y="597.53" width="22.88" height="23.67" fill="#b1cbfc"/>
<rect x="423.42" y="597.53" width="22.88" height="23.67" fill="#dfdbd9"/>
<rect x="445.90" y="597.53" width="22.88" height="23.67" fill="#d2dbe8"/>
<rect x="468.39" y="597.53" width="22.88" height="23.67" fill="#9fbfff"/>
<rect x="490.87" y="597.53" width="22.88" height="23.67" fill="#96b7ff"/>
<rect x="513.35" y="597.53" width="22.88" height="23.67" fill="#bcd2f7"/>
<rect x="535.83" y="597.53" width="22.88" height="23.67" fill="#f5c0a7"/>
<rect x="558.31" y="597.53" width="22.88" height="23.67" fill="#c5d6f2"/>
<rect x="580.79" y="597.53" width="22.88" height="23.67" fill="#d7dce3"/>
<rect x="603.27" y="597.53" width="22.88" height="23.67" fill="#c5d6f2"/>
<rect x="625.75" y="597.53" width="22.88" height="23.67" fill="#e0dbd8"/>
<rect x="648.23" y="597.53" width="22.88" height="23.67" fill="#b1cbfc"/>
<rect x="670.71" y="597.53" width="22.88" height="23.67" fill="#93b5fe"/>
<rect x="693.19" y="597.53" width="22.88" height="23.67" fill="#cedaeb"/>
<rect x="715.67" y="597.53" width="22.88" height="23.67" fill="#f1cdba"/>
<rect x="738.15" y="597.53" width="22.88" height="23.67" fill="#f3c8b2"/>
<rect x="760.63" y="597.53" width="22.88" height="23.67" fill="#cad8ef"/>
<rect x="783.11" y="597.53" width="22.88" height="23.67" fill="#b40426"/>
<rect x="805.59" y="597.53" width="22.88" height="23.67" fill="#efcfbf"/>
<rect x="828.07" y="597.53" width="22.88" height="23.67" fill="#edd1c2"/>
<rect x="850.55" y="597.53" width="22.88" height="23.67" fill="#cad8ef"/>
<rect x="873.03" y="597.53" width="22.88" height="23.67" fill="#e5d8d1"/>
<rect x="895.51" y="597.53" width="22.88" height="23.67" fill="#f7bca1"/>
<rect x="918.00" y="597.53" width="22.88" height="23.67" fill="#cad8ef"/>
<rect x="940.48" y="597.53" width="22.88" height="23.67" fill="#7a9df8"/>
<rect x="962.96" y="597.53" width="22.88" height="23.67" fill="#cedaeb"/>
<rect x="985.44" y="597.53" width="22.88" height="23.67" fill="#e5d8d1"/>
<rect x="1007.92" y="597.53" width="22.88" height="23.67" fill="#e5d8d1"/>
<rect x="1030.40" y="597.53" width="22.88" height="23.67" fill="#d4dbe6"/>
<rect x="1052.88" y="597.53" width="22.88" height="23.67" fill="#e9d5cb"/>
<rect x="1075.36" y="597.53" width="22.88" height="23.67" fill="#ebd3c6"/>
<rect x="1097.84" y="597.53" width="22.88" height="23.67" fill="#a7c5fe"/>
<rect x="1120.32" y="597.53" width="22.88" height="23.67" fill="#f5c4ac"/>
<rect x="221.10" y="620.80" width="22.88" height="23.67" fill="#e8d6cc"/>
<rect x="243.58" y="620.80" width="22.88" height="23.67" fill="#cedaeb"/>
<rect x="266.06" y="620.80" width="22.88" height="23.67" fill="#e4d9d2"/>
<rect x="288.54" y="620.80" width="22.88" height="23.67" fill="#cad8ef"/>
<rect x="311.02" y="620.80" width="22.88" height="23.67" fill="#e9d5cb"/>
<rect x="333.50" y="620.80" width="22.88" height="23.67" fill="#e5d8d1"/>
<rect x="355.98" y="620.80" width="22.88" height="23.67" fill="#eed0c0"/>
<rect x="378.46" y="620.80" width="22.88" height="23.67" fill="#cedaeb"/>
<rect x="400.94" y="620.80" width="22.88" height="23.67" fill="#bfd3f6"/>
<rect x="423.42" y="620.80" width="22.88" height="23.67" fill="#dfdbd9"/>
<rect x="445.90" y="620.80" width="22.88" height="23.67" fill="#cedaeb"/>
<rect x="468.39" y="620.80" width="22.88" height="23.67" fill="#cad8ef"/>
<rect x="490.87" y="620.80" width="22.88" height="23.67" fill="#cedaeb"/>
<rect x="513.35" y="620.80" width="22.88" height="23.67" fill="#bcd2f7"/>
<rect x="535.83" y="620.80" width="22.88" height="23.67" fill="#dddcdc"/>
<rect x="558.31" y="620.80" width="22.88" height="23.67" fill="#bcd2f7"/>
<rect x="580.79" y="620.80" width="22.88" height="23.67" fill="#e4d9d2"/>
<rect x="603.27" y="620.80" width="22.88" height="23.67" fill="#e1dad6"/>
<rect x="625.75" y="620.80" width="22.88" height="23.67" fill="#e4d9d2"/>
<rect x="648.23" y="620.80" width="22.88" height="23.67" fill="#e5d8d1"/>
<rect x="670.71" y="620.80" width="22.88" height="23.67" fill="#e3d9d3"/>
<rect x="693.19" y="620.80" width="22.88" height="23.67" fill="#d1dae9"/>
<rect x="715.67" y="620.80" width="22.88" height="23.67" fill="#dadce0"/>
<rect x="738.15" y="620.80" width="22.88" height="23.67" fill="#d9dce1"/>
<rect x="760.63" y="620.80" width="22.88" height="23.67" fill="#edd1c2"/>
<rect x="783.11" y="620.80" width="22.88" height="23.67" fill="#efcfbf"/>
<rect x="805.59" y="620.80" width="22.88" height="23.67" fill="#b40426"/>
<rect x="828.07" y="620.80" width="22.88" height="23.67" fill="#f5c4ac"/>
<rect x="850.55" y="620.80" width="22.88" height="23.67" fill="#e8d6cc"/>
<rect x="873.03" y="620.80" width="22.88" height="23.67" fill="#aac7fd"/>
<rect x="895.51" y="620.80" width="22.88" height="23.67" fill="#abc8fd"/>
<rect x="918.00" y="620.80" width="22.88" height="23.67" fill="#d7dce3"/>
<rect x="940.48" y="620.80" width="22.88" height="23.67" fill="#a7c5fe"/>
<rect x="962.96" y="620.80" width="22.88" height="23.67" fill="#ebd3c6"/>
<rect x="985.44" y="620.80" width="22.88" height="23.67" fill="#d2dbe8"/>
<rect x="1007.92" y="620.80" width="22.88" height="23.67" fill="#e4d9d2"/>
<rect x="1030.40" y="620.80" width="22.88" height="23.67" fill="#cfdaea"/>
<rect x="1052.88" y="620.80" width="22.88" height="23.67" fill="#e1dad6"/>
<rect x="1075.36" y="620.80" width="22.88" height="23.67" fill="#f5c0a7"/>
<rect x="1097.84" y="620.80" width="22.88" height="23.67" fill="#dddcdc"/>
<rect x="1120.32" y="620.80" width="22.88" height="23.67" fill="#e2dad5"/>
<rect x="221.10" y="644.08" width="22.88" height="23.67" fill="#e8d6cc"/>
<rect x="243.58" y="644.08" width="22.88" height="23.67" fill="#dddcdc"/>
<rect x="266.06" y="644.08" width="22.88" height="23.67" fill="#eed0c0"/>
<rect x="288.54" y="644.08" width="22.88" height="23.67" fill="#e4d9d2"/>
<rect x="311.02" y="644.08" width="22.88" height="23.67" fill="#e3d9d3"/>
<rect x="333.50" y="644.08" width="22.88" height="23.67" fill="#e0dbd8"/>
<rect x="355.98" y="644.08" width="22.88" height="23.67" fill="#eed0c0"/>
<rect x="378.46" y="644.08" width="22.88" height="23.67" fill="#f1ccb8"/>
<rect x="400.94" y="644.08" width="22.88" height="23.67" fill="#bad0f8"/>
<rect x="423.42" y="644.08" width="22.88" height="23.67" fill="#e0dbd8"/>
<rect x="445.90" y="644.08" width="22.88" height="23.67" fill="#bfd3f6"/>
<rect x="468.39" y="644.08" width="22.88" height="23.67" fill="#b1cbfc"/>
<rect x="490.87" y="644.08" width="22.88" height="23.67" fill="#a7c5fe"/>
<rect x="513.35" y="644.08" width="22.88" height="23.67" fill="#bcd2f7"/>
<rect x="535.83" y="644.08" width="22.88" height="23.67" fill="#f0cdbb"/>
<rect x="558.31" y="644.08" width="22.88" height="23.67" fill="#bcd2f7"/>
<rect x="580.79" y="644.08" width="22.88" height="23.67" fill="#e4d9d2"/>
<rect x="603.27" y="644.08" width="22.88" height="23.67" fill="#b6cefa"/>
<rect x="625.75" y="644.08" width="22.88" height="23.67" fill="#dddcdc"/>
<rect x="648.23" y="644.08" width="22.88" height="23.67" fill="#d7dce3"/>
<rect x="670.71" y="644.08" width="22.88" height="23.67" fill="#cad8ef"/>
<rect x="693.19" y="644.08" width="22.88" height="23.67" fill="#e3d9d3"/>
<rect x="715.67" y="644.08" width="22.88" height="23.67" fill="#d2dbe8"/>
<rect x="738.15" y="644.08" width="22.88" height="23.67" fill="#e5d8d1"/>
<rect x="760.63" y="644.08" width="22.88" height="23.67" fill="#ccd9ed"/>
<rect x="783.11" y="644.08" width="22.88" height="23.67" fill="#edd1c2"/>
<rect x="805.59" y="644.08" width="22.88" height="23.67" fill="#f5c4ac"/>
<rect x="828.07" y="644.08" width="22.88" height="23.67" fill="#b40426"/>
<rect x="850.55" y="644.08" width="22.88" height="23.67" fill="#f5c1a9"/>
<rect x="873.03" y="644.08" width="22.88" height="23.67" fill="#98b9ff"/>
<rect x="895.51" y="644.08" width="22.88" height="23.67" fill="#dddcdc"/>
<rect x="918.00" y="644.08" width="22.88" height="23.67" fill="#a7c5fe"/>
<rect x="940.48" y="644.08" width="22.88" height="23.67" fill="#a7c5fe"/>
<rect x="962.96" y="644.08" width="22.88" height="23.67" fill="#e5d8d1"/>
<rect x="985.44" y="644.08" width="22.88" height="23.67" fill="#f6bda2"/>
<rect x="1007.92" y="644.08" width="22.88" height="23.67" fill="#f1ccb8"/>
<rect x="1030.40" y="644.08" width="22.88" height="23.67" fill="#d9dce1"/>
<rect x="1052.88" y="644.08" width="22.88" height="23.67" fill="#e8d6cc"/>
<rect x="1075.36" y="644.08" width="22.88" height="23.67" fill="#e8d6cc"/>
<rect x="1097.84" y="644.08" width="22.88" height="23.67" fill="#9fbfff"/>
<rect x="1120.32" y="644.08" width="22.88" height="23.67" fill="#cedaeb"/>
<rect x="221.10" y="667.35" width="22.88" height="23.67" fill="#d7dce3"/>
<rect x="243.58" y="667.35" width="22.88" height="23.67" fill="#cad8ef"/>
<rect x="266.06" y="667.35" width="22.88" height="23.67" fill="#cad8ef"/>
<rect x="288.54" y="667.35" width="22.88" height="23.67" fill="#b6cefa"/>
<rect x="311.02" y="667.35" width="22.88" height="23.67" fill="#dfdbd9"/>
<rect x="333.50" y="667.35" width="22.88" height="23.67" fill="#e0dbd8"/>
<rect x="355.98" y="667.35" width="22.88" height="23.67" fill="#e2dad5"/>
<rect x="378.46" y="667.35" width="22.88" height="23.67" fill="#e3d9d3"/>
<rect x="400.94" y="667.35" width="22.88" height="23.67" fill="#e4d9d2"/>
<rect x="423.42" y="667.35" width="22.88" height="23.67" fill="#b1cbfc"/>
<rect x="445.90" y="667.35" width="22.88" height="23.67" fill="#cedaeb"/>
<rect x="468.39" y="667.35" width="22.88" height="23.67" fill="#dddcdc"/>
<rect x="490.87" y="667.35" width="22.88" height="23.67" fill="#cedaeb"/>
<rect x="513.35" y="667.35" width="22.88" height="23.67" fill="#e5d8d1"/>
<rect x="535.83" y="667.35" width="22.88" height="23.67" fill="#c1d4f4"/>
<rect x="558.31" y="667.35" width="22.88" height="23.67" fill="#e5d8d1"/>
<rect x="580.79" y="667.35" width="22.88" height="23.67" fill="#bad0f8"/>
<rect x="603.27" y="667.35" width="22.88" height="23.67" fill="#b1cbfc"/>
<rect x="625.75" y="667.35" width="22.88" height="23.67" fill="#edd1c2"/>
<rect x="648.23" y="667.35" width="22.88" height="23.67" fill="#edd1c2"/>
<rect x="670.71" y="667.35" width="22.88" height="23.67" fill="#f5c0a7"/>
<rect x="693.19" y="667.35" width="22.88" height="23.67" fill="#dddcdc"/>
<rect x="715.67" y="667.35" width="22.88" height="23.67" fill="#dddcdc"/>
<rect x="738.15" y="667.35" width="22.88" height="23.67" fill="#e5d8d1"/>
<rect x="760.63" y="667.35" width="22.88" height="23.67" fill="#e5d8d1"/>
<rect x="783.11" y="667.35" width="22.88" height="23.67" fill="#cad8ef"/>
<rect x="805.59" y="667.35" width="22.88" height="23.67" fill="#e8d6cc"/>
<rect x="828.07" y="667.35" width="22.88" height="23.67" fill="#f5c1a9"/>
<rect x="850.55" y="667.35" width="22.88" height="23.67" fill="#b40426"/>
<rect x="873.03" y="667.35" width="22.88" height="23.67" fill="#98b9ff"/>
<rect x="895.51" y="667.35" width="22.88" height="23.67" fill="#cad8ef"/>
<rect x="918.00" y="667.35" width="22.88" height="23.67" fill="#cad8ef"/>
<rect x="940.48" y="667.35" width="22.88" height="23.67" fill="#c1d4f4"/>
<rect x="962.96" y="667.35" width="22.88" height="23.67" fill="#f1ccb8"/>
<rect x="985.44" y="667.35" width="22.88" height="23.67" fill="#cfdaea"/>
<rect x="1007.92" y="667.35" width="22.88" height="23.67" fill="#e8d6cc"/>
<rect x="1030.40" y="667.35" width="22.88" height="23.67" fill="#9fbfff"/>
<rect x="1052.88" y="667.35" width="22.88" height="23.67" fill="#cedaeb"/>
<rect x="1075.36" y="667.35" width="22.88" height="23.67" fill="#c1d4f4"/>
<rect x="1097.84" y="667.35" width="22.88" height="23.67" fill="#c5d6f2"/>
<rect x="1120.32" y="667.35" width="22.88" height="23.67" fill="#9abbff"/>
<rect x="221.10" y="690.62" width="22.88" height="23.67" fill="#d4dbe6"/>
<rect x="243.58" y="690.62" width="22.88" height="23.67" fill="#dfdbd9"/>
<rect x="266.06" y="690.62" width="22.88" height="23.67" fill="#dfdbd9"/>
<rect x="288.54" y="690.62" width="22.88" height="23.67" fill="#f0cdbb"/>
<rect x="311.02" y="690.62" width="22.88" height="23.67" fill="#cad8ef"/>
<rect x="333.50" y="690.62" width="22.88" height="23.67" fill="#cedaeb"/>
<rect x="355.98" y="690.62" width="22.88" height="23.67" fill="#c1d4f4"/>
<rect x="378.46" y="690.62" width="22.88" height="23.67" fill="#e3d9d3"/>
<rect x="400.94" y="690.62" width="22.88" height="23.67" fill="#c1d4f4"/>
<rect x="423.42" y="690.62" width="22.88" height="23.67" fill="#d7dce3"/>
<rect x="445.90" y="690.62" width="22.88" height="23.67" fill="#e5d8d1"/>
<rect x="468.39" y="690.62" width="22.88" height="23.67" fill="#c1d4f4"/>
<rect x="490.87" y="690.62" width="22.88" height="23.67" fill="#cad8ef"/>
<rect x="513.35" y="690.62" width="22.88" height="23.67" fill="#c1d4f4"/>
<rect x="535.83" y="690.62" width="22.88" height="23.67" fill="#f3c8b2"/>
<rect x="558.31" y="690.62" width="22.88" height="23.67" fill="#cedaeb"/>
<rect x="580.79" y="690.62" width="22.88" height="23.67" fill="#bcd2f7"/>
<rect x="603.27" y="690.62" width="22.88" height="23.67" fill="#f7b497"/>
<rect x="625.75" y="690.62" width="22.88" height="23.67" fill="#ebd3c6"/>
<rect x="648.23" y="690.62" width="22.88" height="23.67" fill="#cedaeb"/>
<rect x="670.71" y="690.62" width="22.88" height="23.67" fill="#bad0f8"/>
<rect x="693.19" y="690.62" width="22.88" height="23.67" fill="#b1cbfc"/>
<rect x="715.67" y="690.62" width="22.88" height="23.67" fill="#b1cbfc"/>
<rect x="738.15" y="690.62" width="22.88" height="23.67" fill="#c4d5f3"/>
<rect x="760.63" y="690.62" width="22.88" height="23.67" fill="#bcd2f7"/>
<rect x="783.11" y="690.62" width="22.88" height="23.67" fill="#e5d8d1"/>
<rect x="805.59" y="690.62" width="22.88" height="23.67" fill="#aac7fd"/>
<rect x="828.07" y="690.62" width="22.88" height="23.67" fill="#98b9ff"/>
<rect x="850.55" y="690.62" width="22.88" height="23.67" fill="#98b9ff"/>
<rect x="873.03" y="690.62" width="22.88" height="23.67" fill="#b40426"/>
<rect x="895.51" y="690.62" width="22.88" height="23.67" fill="#e5d8d1"/>
<rect x="918.00" y="690.62" width="22.88" height="23.67" fill="#d7dce3"/>
<rect x="940.48" y="690.62" width="22.88" height="23.67" fill="#d9dce1"/>
<rect x="962.96" y="690.62" width="22.88" height="23.67" fill="#bad0f8"/>
<rect x="985.44" y="690.62" width="22.88" height="23.67" fill="#e3d9d3"/>
<rect x="1007.92" y="690.62" width="22.88" height="23.67" fill="#d4dbe6"/>
<rect x="1030.40" y="690.62" width="22.88" height="23.67" fill="#cad8ef"/>
<rect x="1052.88" y="690.62" width="22.88" height="23.67" fill="#f0cdbb"/>
<rect x="1075.36" y="690.62" width="22.88" height="23.67" fill="#e5d8d1"/>
<rect x="1097.84" y="690.62" width="22.88" height="23.67" fill="#e5d8d1"/>
<rect x="1120.32" y="690.62" width="22.88" height="23.67" fill="#f5c4ac"/>
<rect x="221.10" y="713.90" width="22.88" height="23.67" fill="#e8d6cc"/>
<rect x="243.58" y="713.90" width="22.88" height="23.67" fill="#f1ccb8"/>
<rect x="266.06" y="713.90" width="22.88" height="23.67" fill="#eed0c0"/>
<rect x="288.54" y="713.90" width="22.88" height="23.67" fill="#f7b093"/>
<rect x="311.02" y="713.90" width="22.88" height="23.67" fill="#d7dce3"/>
<rect x="333.50" y="713.90" width="22.88" height="23.67" fill="#dddcdc"/>
<rect x="355.98" y="713.90" width="22.88" height="23.67" fill="#cad8ef"/>
<rect x="378.46" y="713.90" width="22.88" height="23.67" fill="#f5c4ac"/>
<rect x="400.94" y="713.90" width="22.88" height="23.67" fill="#cfdaea"/>
<rect x="423.42" y="713.90" width="22.88" height="23.67" fill="#f4c5ad"/>
<rect x="445.90" y="713.90" width="22.88" height="23.67" fill="#d4dbe6"/>
<rect x="468.39" y="713.90" width="22.88" height="23.67" fill="#c1d4f4"/>
<rect x="490.87" y="713.90" width="22.88" height="23.67" fill="#adc9fd"/>
<rect x="513.35" y="713.90" width="22.88" height="23.67" fill="#d7dce3"/>
<rect x="535.83" y="713.90" width="22.88" height="23.67" fill="#f4c5ad"/>
<rect x="558.31" y="713.90" width="22.88" height="23.67" fill="#dddcdc"/>
<rect x="580.79" y="713.90" width="22.88" height="23.67" fill="#e8d6cc"/>
<rect x="603.27" y="713.90" width="22.88" height="23.67" fill="#b1cbfc"/>
<rect x="625.75" y="713.90" width="22.88" height="23.67" fill="#9abbff"/>
<rect x="648.23" y="713.90" width="22.88" height="23.67" fill="#7a9df8"/>
<rect x="670.71" y="713.90" width="22.88" height="23.67" fill="#7597f6"/>
<rect x="693.19" y="713.90" width="22.88" height="23.67" fill="#c1d4f4"/>
<rect x="715.67" y="713.90" width="22.88" height="23.67" fill="#e4d9d2"/>
<rect x="738.15" y="713.90" width="22.88" height="23.67" fill="#f7b99e"/>
<rect x="760.63" y="713.90" width="22.88" height="23.67" fill="#cad8ef"/>
<rect x="783.11" y="713.90" width="22.88" height="23.67" fill="#f7bca1"/>
<rect x="805.59" y="713.90" width="22.88" height="23.67" fill="#abc8fd"/>
<rect x="828.07" y="713.90" width="22.88" height="23.67" fill="#dddcdc"/>
<rect x="850.55" y="713.90" width="22.88" height="23.67" fill="#cad8ef"/>
<rect x="873.03" y="713.90" width="22.88" height="23.67" fill="#e5d8d1"/>
<rect x="895.51" y="713.90" width="22.88" height="23.67" fill="#b40426"/>
<rect x="918.00" y="713.90" width="22.88" height="23.67" fill="#b1cbfc"/>
<rect x="940.48" y="713.90" width="22.88" height="23.67" fill="#b1cbfc"/>
<rect x="962.96" y="713.90" width="22.88" height="23.67" fill="#9abbff"/>
<rect x="985.44" y="713.90" width="22.88" height="23.67" fill="#f5c0a7"/>
<rect x="1007.92" y="713.90" width="22.88" height="23.67" fill="#abc8fd"/>
<rect x="1030.40" y="713.90" width="22.88" height="23.67" fill="#f1ccb8"/>
<rect x="1052.88" y="713.90" width="22.88" height="23.67" fill="#f2cab5"/>
<rect x="1075.36" y="713.90" width="22.88" height="23.67" fill="#b5cdfa"/>
<rect x="1097.84" y="713.90" width="22.88" height="23.67" fill="#94b6ff"/>
<rect x="1120.32" y="713.90" width="22.88" height="23.67" fill="#f7b093"/>
<rect x="221.10" y="737.17" width="22.88" height="23.67" fill="#bcd2f7"/>
<rect x="243.58" y="737.17" width="22.88" height="23.67" fill="#bad0f8"/>
<rect x="266.06" y="737.17" width="22.88" height="23.67" fill="#b6cefa"/>
<rect x="288.54" y="737.17" width="22.88" height="23.67" fill="#b1cbfc"/>
<rect x="311.02" y="737.17" width="22.88" height="23.67" fill="#cfdaea"/>
<rect x="333.50" y="737.17" width="22.88" height="23.67" fill="#cedaeb"/>
<rect x="355.98" y="737.17" width="22.88" height="23.67" fill="#d7dce3"/>
<rect x="378.46" y="737.17" width="22.88" height="23.67" fill="#7ea1fa"/>
<rect x="400.94" y="737.17" width="22.88" height="23.67" fill="#f1ccb8"/>
<rect x="423.42" y="737.17" width="22.88" height="23.67" fill="#bad0f8"/>
<rect x="445.90" y="737.17" width="22.88" height="23.67" fill="#f1ccb8"/>
<rect x="468.39" y="737.17" width="22.88" height="23.67" fill="#f7ac8e"/>
<rect x="490.87" y="737.17" width="22.88" height="23.67" fill="#f08b6e"/>
<rect x="513.35" y="737.17" width="22.88" height="23.67" fill="#e9d5cb"/>
<rect x="535.83" y="737.17" width="22.88" height="23.67" fill="#88abfd"/>
<rect x="558.31" y="737.17" width="22.88" height="23.67" fill="#dddcdc"/>
<rect x="580.79" y="737.17" width="22.88" height="23.67" fill="#bad0f8"/>
<rect x="603.27" y="737.17" width="22.88" height="23.67" fill="#f6bda2"/>
<rect x="625.75" y="737.17" width="22.88" height="23.67" fill="#edd1c2"/>
<rect x="648.23" y="737.17" width="22.88" height="23.67" fill="#f5c0a7"/>
<rect x="670.71" y="737.17" width="22.88" height="23.67" fill="#f7b99e"/>
<rect x="693.19" y="737.17" width="22.88" height="23.67" fill="#c6d6f1"/>
<rect x="715.67" y="737.17" width="22.88" height="23.67" fill="#f1ccb8"/>
<rect x="738.15" y="737.17" width="22.88" height="23.67" fill="#f0cdbb"/>
<rect x="760.63" y="737.17" width="22.88" height="23.67" fill="#f7b093"/>
<rect x="783.11" y="737.17" width="22.88" height="23.67" fill="#cad8ef"/>
<rect x="805.59" y="737.17" width="22.88" height="23.67" fill="#d7dce3"/>
<rect x="828.07" y="737.17" width="22.88" height="23.67" fill="#a7c5fe"/>
<rect x="850.55" y="737.17" width="22.88" height="23.67" fill="#cad8ef"/>
<rect x="873.03" y="737.17" width="22.88" height="23.67" fill="#d7dce3"/>
<rect x="895.51" y="737.17" width="22.88" height="23.67" fill="#b1cbfc"/>
<rect x="918.00" y="737.17" width="22.88" height="23.67" fill="#b40426"/>
<rect x="940.48" y="737.17" width="22.88" height="23.67" fill="#e8d6cc"/>
<rect x="962.96" y="737.17" width="22.88" height="23.67" fill="#dddcdc"/>
<rect x="985.44" y="737.17" width="22.88" height="23.67" fill="#8db0fe"/>
<rect x="1007.92" y="737.17" width="22.88" height="23.67" fill="#ecd3c5"/>
<rect x="1030.40" y="737.17" width="22.88" height="23.67" fill="#bad0f8"/>
<rect x="1052.88" y="737.17" width="22.88" height="23.67" fill="#8db0fe"/>
<rect x="1075.36" y="737.17" width="22.88" height="23.67" fill="#bcd2f7"/>
<rect x="1097.84" y="737.17" width="22.88" height="23.67" fill="#f7a688"/>
<rect x="1120.32" y="737.17" width="22.88" height="23.67" fill="#a7c5fe"/>
<rect x="221.10" y="760.44" width="22.88" height="23.67" fill="#bcd2f7"/>
<rect x="243.58" y="760.44" width="22.88" height="23.67" fill="#cad8ef"/>
<rect x="266.06" y="760.44" width="22.88" height="23.67" fill="#cad8ef"/>
<rect x="288.54" y="760.44" width="22.88" height="23.67" fill="#bad0f8"/>
<rect x="311.02" y="760.44" width="22.88" height="23.67" fill="#cad8ef"/>
<rect x="333.50" y="760.44" width="22.88" height="23.67" fill="#cad8ef"/>
<rect x="355.98" y="760.44" width="22.88" height="23.67" fill="#dddcdc"/>
<rect x="378.46" y="760.44" width="22.88" height="23.67" fill="#cad8ef"/>
<rect x="400.94" y="760.44" width="22.88" height="23.67" fill="#f1ccb8"/>
<rect x="423.42" y="760.44" width="22.88" height="23.67" fill="#cad8ef"/>
<rect x="445.90" y="760.44" width="22.88" height="23.67" fill="#dddcdc"/>
<rect x="468.39" y="760.44" width="22.88" height="23.67" fill="#f7b99e"/>
<rect x="490.87" y="760.44" width="22.88" height="23.67" fill="#f7ac8e"/>
<rect x="513.35" y="760.44" width="22.88" height="23.67" fill="#e5d8d1"/>
<rect x="535.83" y="760.44" width="22.88" height="23.67" fill="#a7c5fe"/>
<rect x="558.31" y="760.44" width="22.88" height="23.67" fill="#dddcdc"/>
<rect x="580.79" y="760.44" width="22.88" height="23.67" fill="#dddcdc"/>
<rect x="603.27" y="760.44" width="22.88" height="23.67" fill="#f0cdbb"/>
<rect x="625.75" y="760.44" width="22.88" height="23.67" fill="#d9dce1"/>
<rect x="648.23" y="760.44" width="22.88" height="23.67" fill="#e4d9d2"/>
<rect x="670.71" y="760.44" width="22.88" height="23.67" fill="#f0cdbb"/>
<rect x="693.19" y="760.44" width="22.88" height="23.67" fill="#a7c5fe"/>
<rect x="715.67" y="760.44" width="22.88" height="23.67" fill="#90b2fe"/>
<rect x="738.15" y="760.44" width="22.88" height="23.67" fill="#90b2fe"/>
<rect x="760.63" y="760.44" width="22.88" height="23.67" fill="#dddcdc"/>
<rect x="783.11" y="760.44" width="22.88" height="23.67" fill="#7a9df8"/>
<rect x="805.59" y="760.44" width="22.88" height="23.67" fill="#a7c5fe"/>
<rect x="828.07" y="760.44" width="22.88" height="23.67" fill="#a7c5fe"/>
<rect x="850.55" y="760.44" width="22.88" height="23.67" fill="#c1d4f4"/>
<rect x="873.03" y="760.44" width="22.88" height="23.67" fill="#d9dce1"/>
<rect x="895.51" y="760.44" width="22.88" height="23.67" fill="#b1cbfc"/>
<rect x="918.00" y="760.44" width="22.88" height="23.67" fill="#e8d6cc"/>
<rect x="940.48" y="760.44" width="22.88" height="23.67" fill="#b40426"/>
<rect x="962.96" y="760.44" width="22.88" height="23.67" fill="#bad0f8"/>
<rect x="985.44" y="760.44" width="22.88" height="23.67" fill="#d7dce3"/>
<rect x="1007.92" y="760.44" width="22.88" height="23.67" fill="#d7dce3"/>
<rect x="1030.40" y="760.44" width="22.88" height="23.67" fill="#d6dce4"/>
<rect x="1052.88" y="760.44" width="22.88" height="23.67" fill="#aac7fd"/>
<rect x="1075.36" y="760.44" width="22.88" height="23.67" fill="#ecd3c5"/>
<rect x="1097.84" y="760.44" width="22.88" height="23.67" fill="#f5c4ac"/>
<rect x="1120.32" y="760.44" width="22.88" height="23.67" fill="#d4dbe6"/>
<rect x="221.10" y="783.71" width="22.88" height="23.67" fill="#e9d5cb"/>
<rect x="243.58" y="783.71" width="22.88" height="23.67" fill="#bad0f8"/>
<rect x="266.06" y="783.71" width="22.88" height="23.67" fill="#f3c8b2"/>
<rect x="288.54" y="783.71" width="22.88" height="23.67" fill="#d4dbe6"/>
<rect x="311.02" y="783.71" width="22.88" height="23.67" fill="#f0cdbb"/>
<rect x="333.50" y="783.71" width="22.88" height="23.67" fill="#dfdbd9"/>
<rect x="355.98" y="783.71" width="22.88" height="23.67" fill="#f7bca1"/>
<rect x="378.46" y="783.71" width="22.88" height="23.67" fill="#bcd2f7"/>
<rect x="400.94" y="783.71" width="22.88" height="23.67" fill="#80a3fa"/>
<rect x="423.42" y="783.71" width="22.88" height="23.67" fill="#c1d4f4"/>
<rect x="445.90" y="783.71" width="22.88" height="23.67" fill="#d7dce3"/>
<rect x="468.39" y="783.71" width="22.88" height="23.67" fill="#9fbfff"/>
<rect x="490.87" y="783.71" width="22.88" height="23.67" fill="#bad0f8"/>
<rect x="513.35" y="783.71" width="22.88" height="23.67" fill="#88abfd"/>
<rect x="535.83" y="783.71" width="22.88" height="23.67" fill="#f0cdbb"/>
<rect x="558.31" y="783.71" width="22.88" height="23.67" fill="#80a3fa"/>
<rect x="580.79" y="783.71" width="22.88" height="23.67" fill="#dddcdc"/>
<rect x="603.27" y="783.71" width="22.88" height="23.67" fill="#f5c0a7"/>
<rect x="625.75" y="783.71" width="22.88" height="23.67" fill="#f5c0a7"/>
<rect x="648.23" y="783.71" width="22.88" height="23.67" fill="#f29274"/>
<rect x="670.71" y="783.71" width="22.88" height="23.67" fill="#f29274"/>
<rect x="693.19" y="783.71" width="22.88" height="23.67" fill="#f29274"/>
<rect x="715.67" y="783.71" width="22.88" height="23.67" fill="#f7b093"/>
<rect x="738.15" y="783.71" width="22.88" height="23.67" fill="#f0cdbb"/>
<rect x="760.63" y="783.71" width="22.88" height="23.67" fill="#e5d8d1"/>
<rect x="783.11" y="783.71" width="22.88" height="23.67" fill="#cedaeb"/>
<rect x="805.59" y="783.71" width="22.88" height="23.67" fill="#ebd3c6"/>
<rect x="828.07" y="783.71" width="22.88" height="23.67" fill="#e5d8d1"/>
<rect x="850.55" y="783.71" width="22.88" height="23.67" fill="#f1ccb8"/>
<rect x="873.03" y="783.71" width="22.88" height="23.67" fill="#bad0f8"/>
<rect x="895.51" y="783.71" width="22.88" height="23.67" fill="#9abbff"/>
<rect x="918.00" y="783.71" width="22.88" height="23.67" fill="#dddcdc"/>
<rect x="940.48" y="783.71" width="22.88" height="23.67" fill="#bad0f8"/>
<rect x="962.96" y="783.71" width="22.88" height="23.67" fill="#b40426"/>
<rect x="985.44" y="783.71" width="22.88" height="23.67" fill="#b1cbfc"/>
<rect x="1007.92" y="783.71" width="22.88" height="23.67" fill="#dddcdc"/>
<rect x="1030.40" y="783.71" width="22.88" height="23.67" fill="#bad0f8"/>
<rect x="1052.88" y="783.71" width="22.88" height="23.67" fill="#bad0f8"/>
<rect x="1075.36" y="783.71" width="22.88" height="23.67" fill="#abc8fd"/>
<rect x="1097.84" y="783.71" width="22.88" height="23.67" fill="#c1d4f4"/>
<rect x="1120.32" y="783.71" width="22.88" height="23.67" fill="#94b6ff"/>
<rect x="221.10" y="806.99" width="22.88" height="23.67" fill="#e8d6cc"/>
<rect x="243.58" y="806.99" width="22.88" height="23.67" fill="#f0cdbb"/>
<rect x="266.06" y="806.99" width="22.88" height="23.67" fill="#f5c0a7"/>
<rect x="288.54" y="806.99" width="22.88" height="23.67" fill="#f5a081"/>
<rect x="311.02" y="806.99" width="22.88" height="23.67" fill="#d6dce4"/>
<rect x="333.50" y="806.99" width="22.88" height="23.67" fill="#d9dce1"/>
<rect x="355.98" y="806.99" width="22.88" height="23.67" fill="#d6dce4"/>
<rect x="378.46" y="806.99" width="22.88" height="23.67" fill="#f6bda2"/>
<rect x="400.94" y="806.99" width="22.88" height="23.67" fill="#90b2fe"/>
<rect x="423.42" y="806.99" width="22.88" height="23.67" fill="#f5c4ac"/>
<rect x="445.90" y="806.99" width="22.88" height="23.67" fill="#bad0f8"/>
<rect x="468.39" y="806.99" width="22.88" height="23.67" fill="#88abfd"/>
<rect x="490.87" y="806.99" width="22.88" height="23.67" fill="#88abfd"/>
<rect x="513.35" y="806.99" width="22.88" height="23.67" fill="#96b7ff"/>
<rect x="535.83" y="806.99" width="22.88" height="23.67" fill="#f29274"/>
<rect x="558.31" y="806.99" width="22.88" height="23.67" fill="#a7c5fe"/>
<rect x="580.79" y="806.99" width="22.88" height="23.67" fill="#f1ccb8"/>
<rect x="603.27" y="806.99" width="22.88" height="23.67" fill="#e0dbd8"/>
<rect x="625.75" y="806.99" width="22.88" height="23.67" fill="#a7c5fe"/>
<rect x="648.23" y="806.99" width="22.88" height="23.67" fill="#93b5fe"/>
<rect x="670.71" y="806.99" width="22.88" height="23.67" fill="#84a7fc"/>
<rect x="693.19" y="806.99" width="22.88" height="23.67" fill="#e3d9d3"/>
<rect x="715.67" y="806.99" width="22.88" height="23.67" fill="#cfdaea"/>
<rect x="738.15" y="806.99" width="22.88" height="23.67" fill="#b1cbfc"/>
<rect x="760.63" y="806.99" width="22.88" height="23.67" fill="#688aef"/>
<rect x="783.11" y="806.99" width="22.88" height="23.67" fill="#e5d8d1"/>
<rect x="805.59" y="806.99" width="22.88" height="23.67" fill="#d2dbe8"/>
<rect x="828.07" y="806.99" width="22.88" height="23.67" fill="#f6bda2"/>
<rect x="850.55" y="806.99" width="22.88" height="23.67" fill="#cfdaea"/>
<rect x="873.03" y="806.99" width="22.88" height="23.67" fill="#e3d9d3"/>
<rect x="895.51" y="806.99" width="22.88" height="23.67" fill="#f5c0a7"/>
<rect x="918.00" y="806.99" width="22.88" height="23.67" fill="#8db0fe"/>
<rect x="940.48" y="806.99" width="22.88" height="23.67" fill="#d7dce3"/>
<rect x="962.96" y="806.99" width="22.88" height="23.67" fill="#b1cbfc"/>
<rect x="985.44" y="806.99" width="22.88" height="23.67" fill="#b40426"/>
<rect x="1007.92" y="806.99" width="22.88" height="23.67" fill="#d7dce3"/>
<rect x="1030.40" y="806.99" width="22.88" height="23.67" fill="#f7ba9f"/>
<rect x="1052.88" y="806.99" width="22.88" height="23.67" fill="#f7a688"/>
<rect x="1075.36" y="806.99" width="22.88" height="23.67" fill="#e3d9d3"/>
<rect x="1097.84" y="806.99" width="22.88" height="23.67" fill="#8db0fe"/>
<rect x="1120.32" y="806.99" width="22.88" height="23.67" fill="#eed0c0"/>
<rect x="221.10" y="830.26" width="22.88" height="23.67" fill="#cedaeb"/>
<rect x="243.58" y="830.26" width="22.88" height="23.67" fill="#bfd3f6"/>
<rect x="266.06" y="830.26" width="22.88" height="23.67" fill="#cedaeb"/>
<rect x="288.54" y="830.26" width="22.88" height="23.67" fill="#abc8fd"/>
<rect x="311.02" y="830.26" width="22.88" height="23.67" fill="#d9dce1"/>
<rect x="333.50" y="830.26" width="22.88" height="23.67" fill="#d7dce3"/>
<rect x="355.98" y="830.26" width="22.88" height="23.67" fill="#e5d8d1"/>
<rect x="378.46" y="830.26" width="22.88" height="23.67" fill="#c6d6f1"/>
<rect x="400.94" y="830.26" width="22.88" height="23.67" fill="#adc9fd"/>
<rect x="423.42" y="830.26" width="22.88" height="23.67" fill="#96b7ff"/>
<rect x="445.90" y="830.26" width="22.88" height="23.67" fill="#d7dce3"/>
<rect x="468.39" y="830.26" width="22.88" height="23.67" fill="#c1d4f4"/>
<rect x="490.87" y="830.26" width="22.88" height="23.67" fill="#d7dce3"/>
<rect x="513.35" y="830.26" width="22.88" height="23.67" fill="#bad0f8"/>
<rect x="535.83" y="830.26" width="22.88" height="23.67" fill="#dfdbd9"/>
<rect x="558.31" y="830.26" width="22.88" height="23.67" fill="#adc9fd"/>
<rect x="580.79" y="830.26" width="22.88" height="23.67" fill="#bcd2f7"/>
<rect x="603.27" y="830.26" width="22.88" height="23.67" fill="#f0cdbb"/>
<rect x="625.75" y="830.26" width="22.88" height="23.67" fill="#f7b093"/>
<rect x="648.23" y="830.26" width="22.88" height="23.67" fill="#f7ac8e"/>
<rect x="670.71" y="830.26" width="22.88" height="23.67" fill="#eed0c0"/>
<rect x="693.19" y="830.26" width="22.88" height="23.67" fill="#cad8ef"/>
<rect x="715.67" y="830.26" width="22.88" height="23.67" fill="#cad8ef"/>
<rect x="738.15" y="830.26" width="22.88" height="23.67" fill="#edd1c2"/>
<rect x="760.63" y="830.26" width="22.88" height="23.67" fill="#e4d9d2"/>
<rect x="783.11" y="830.26" width="22.88" height="23.67" fill="#e5d8d1"/>
<rect x="805.59" y="830.26" width="22.88" height="23.67" fill="#e4d9d2"/>
<rect x="828.07" y="830.26" width="22.88" height="23.67" fill="#f1ccb8"/>
<rect x="850.55" y="830.26" width="22.88" height="23.67" fill="#e8d6cc"/>
<rect x="873.03" y="830.26" width="22.88" height="23.67" fill="#d4dbe6"/>
<rect x="895.51" y="830.26" width="22.88" height="23.67" fill="#abc8fd"/>
<rect x="918.00" y="830.26" width="22.88" height="23.67" fill="#ecd3c5"/>
<rect x="940.48" y="830.26" width="22.88" height="23.67" fill="#d7dce3"/>
<rect x="962.96" y="830.26" width="22.88" height="23.67" fill="#dddcdc"/>
<rect x="985.44" y="830.26" width="22.88" height="23.67" fill="#d7dce3"/>
<rect x="1007.92" y="830.26" width="22.88" height="23.67" fill="#b40426"/>
<rect x="1030.40" y="830.26" width="22.88" height="23.67" fill="#92b4fe"/>
<rect x="1052.88" y="830.26" width="22.88" height="23.67" fill="#c4d5f3"/>
<rect x="1075.36" y="830.26" width="22.88" height="23.67" fill="#f4c5ad"/>
<rect x="1097.84" y="830.26" width="22.88" height="23.67" fill="#f4c5ad"/>
<rect x="1120.32" y="830.26" width="22.88" height="23.67" fill="#9abbff"/>
<rect x="221.10" y="853.53" width="22.88" height="23.67" fill="#e9d5cb"/>
<rect x="243.58" y="853.53" width="22.88" height="23.67" fill="#f4c5ad"/>
<rect x="266.06" y="853.53" width="22.88" height="23.67" fill="#e9d5cb"/>
<rect x="288.54" y="853.53" width="22.88" height="23.67" fill="#f7b093"/>
<rect x="311.02" y="853.53" width="22.88" height="23.67" fill="#d9dce1"/>
<rect x="333.50" y="853.53" width="22.88" height="23.67" fill="#dfdbd9"/>
<rect x="355.98" y="853.53" width="22.88" height="23.67" fill="#cad8ef"/>
<rect x="378.46" y="853.53" width="22.88" height="23.67" fill="#edd1c2"/>
<rect x="400.94" y="853.53" width="22.88" height="23.67" fill="#cad8ef"/>
<rect x="423.42" y="853.53" width="22.88" height="23.67" fill="#f7b093"/>
<rect x="445.90" y="853.53" width="22.88" height="23.67" fill="#d9dce1"/>
<rect x="468.39" y="853.53" width="22.88" height="23.67" fill="#bad0f8"/>
<rect x="490.87" y="853.53" width="22.88" height="23.67" fill="#bad0f8"/>
<rect x="513.35" y="853.53" width="22.88" height="23.67" fill="#bfd3f6"/>
<rect x="535.83" y="853.53" width="22.88" height="23.67" fill="#f3c8b2"/>
<rect x="558.31" y="853.53" width="22.88" height="23.67" fill="#cad8ef"/>
<rect x="580.79" y="853.53" width="22.88" height="23.67" fill="#f2cab5"/>
<rect x="603.27" y="853.53" width="22.88" height="23.67" fill="#c6d6f1"/>
<rect x="625.75" y="853.53" width="22.88" height="23.67" fill="#6180e9"/>
<rect x="648.23" y="853.53" width="22.88" height="23.67" fill="#96b7ff"/>
<rect x="670.71" y="853.53" width="22.88" height="23.67" fill="#a2c1ff"/>
<rect x="693.19" y="853.53" width="22.88" height="23.67" fill="#f7ac8e"/>
<rect x="715.67" y="853.53" width="22.88" height="23.67" fill="#eed0c0"/>
<rect x="738.15" y="853.53" width="22.88" height="23.67" fill="#a2c1ff"/>
<rect x="760.63" y="853.53" width="22.88" height="23.67" fill="#88abfd"/>
<rect x="783.11" y="853.53" width="22.88" height="23.67" fill="#d4dbe6"/>
<rect x="805.59" y="853.53" width="22.88" height="23.67" fill="#cfdaea"/>
<rect x="828.07" y="853.53" width="22.88" height="23.67" fill="#d9dce1"/>
<rect x="850.55" y="853.53" width="22.88" height="23.67" fill="#9fbfff"/>
<rect x="873.03" y="853.53" width="22.88" height="23.67" fill="#cad8ef"/>
<rect x="895.51" y="853.53" width="22.88" height="23.67" fill="#f1ccb8"/>
<rect x="918.00" y="853.53" width="22.88" height="23.67" fill="#bad0f8"/>
<rect x="940.48" y="853.53" width="22.88" height="23.67" fill="#d6dce4"/>
<rect x="962.96" y="853.53" width="22.88" height="23.67" fill="#bad0f8"/>
<rect x="985.44" y="853.53" width="22.88" height="23.67" fill="#f7ba9f"/>
<rect x="1007.92" y="853.53" width="22.88" height="23.67" fill="#92b4fe"/>
<rect x="1030.40" y="853.53" width="22.88" height="23.67" fill="#b40426"/>
<rect x="1052.88" y="853.53" width="22.88" height="23.67" fill="#f7bca1"/>
<rect x="1075.36" y="853.53" width="22.88" height="23.67" fill="#adc9fd"/>
<rect x="1097.84" y="853.53" width="22.88" height="23.67" fill="#96b7ff"/>
<rect x="1120.32" y="853.53" width="22.88" height="23.67" fill="#ead5c9"/>
<rect x="221.10" y="876.81" width="22.88" height="23.67" fill="#e9d5cb"/>
<rect x="243.58" y="876.81" width="22.88" height="23.67" fill="#e8d6cc"/>
<rect x="266.06" y="876.81" width="22.88" height="23.67" fill="#f7b497"/>
<rect x="288.54" y="876.81" width="22.88" height="23.67" fill="#f7b093"/>
<rect x="311.02" y="876.81" width="22.88" height="23.67" fill="#d9dce1"/>
<rect x="333.50" y="876.81" width="22.88" height="23.67" fill="#d4dbe6"/>
<rect x="355.98" y="876.81" width="22.88" height="23.67" fill="#e3d9d3"/>
<rect x="378.46" y="876.81" width="22.88" height="23.67" fill="#f7b99e"/>
<rect x="400.94" y="876.81" width="22.88" height="23.67" fill="#93b5fe"/>
<rect x="423.42" y="876.81" width="22.88" height="23.67" fill="#f3c8b2"/>
<rect x="445.90" y="876.81" width="22.88" height="23.67" fill="#c1d4f4"/>
<rect x="468.39" y="876.81" width="22.88" height="23.67" fill="#80a3fa"/>
<rect x="490.87" y="876.81" width="22.88" height="23.67" fill="#7a9df8"/>
<rect x="513.35" y="876.81" width="22.88" height="23.67" fill="#96b7ff"/>
<rect x="535.83" y="876.81" width="22.88" height="23.67" fill="#ee8669"/>
<rect x="558.31" y="876.81" width="22.88" height="23.67" fill="#abc8fd"/>
<rect x="580.79" y="876.81" width="22.88" height="23.67" fill="#f2cab5"/>
<rect x="603.27" y="876.81" width="22.88" height="23.67" fill="#e0dbd8"/>
<rect x="625.75" y="876.81" width="22.88" height="23.67" fill="#a7c5fe"/>
<rect x="648.23" y="876.81" width="22.88" height="23.67" fill="#a5c3fe"/>
<rect x="670.71" y="876.81" width="22.88" height="23.67" fill="#9abbff"/>
<rect x="693.19" y="876.81" width="22.88" height="23.67" fill="#e8d6cc"/>
<rect x="715.67" y="876.81" width="22.88" height="23.67" fill="#cad8ef"/>
<rect x="738.15" y="876.81" width="22.88" height="23.67" fill="#9fbfff"/>
<rect x="760.63" y="876.81" width="22.88" height="23.67" fill="#7a9df8"/>
<rect x="783.11" y="876.81" width="22.88" height="23.67" fill="#e9d5cb"/>
<rect x="805.59" y="876.81" width="22.88" height="23.67" fill="#e1dad6"/>
<rect x="828.07" y="876.81" width="22.88" height="23.67" fill="#e8d6cc"/>
<rect x="850.55" y="876.81" width="22.88" height="23.67" fill="#cedaeb"/>
<rect x="873.03" y="876.81" width="22.88" height="23.67" fill="#f0cdbb"/>
<rect x="895.51" y="876.81" width="22.88" height="23.67" fill="#f2cab5"/>
<rect x="918.00" y="876.81" width="22.88" height="23.67" fill="#8db0fe"/>
<rect x="940.48" y="876.81" width="22.88" height="23.67" fill="#aac7fd"/>
<rect x="962.96" y="876.81" width="22.88" height="23.67" fill="#bad0f8"/>
<rect x="985.44" y="876.81" width="22.88" height="23.67" fill="#f7a688"/>
<rect x="1007.92" y="876.81" width="22.88" height="23.67" fill="#c4d5f3"/>
<rect x="1030.40" y="876.81" width="22.88" height="23.67" fill="#f7bca1"/>
<rect x="1052.88" y="876.81" width="22.88" height="23.67" fill="#b40426"/>
<rect x="1075.36" y="876.81" width="22.88" height="23.67" fill="#d7dce3"/>
<rect x="1097.84" y="876.81" width="22.88" height="23.67" fill="#96b7ff"/>
<rect x="1120.32" y="876.81" width="22.88" height="23.67" fill="#e4d9d2"/>
<rect x="221.10" y="900.08" width="22.88" height="23.67" fill="#cad8ef"/>
<rect x="243.58" y="900.08" width="22.88" height="23.67" fill="#bad0f8"/>
<rect x="266.06" y="900.08" width="22.88" height="23.67" fill="#d7dce3"/>
<rect x="288.54" y="900.08" width="22.88" height="23.67" fill="#cedaeb"/>
<rect x="311.02" y="900.08" width="22.88" height="23.67" fill="#cfdaea"/>
<rect x="333.50" y="900.08" width="22.88" height="23.67" fill="#cad8ef"/>
<rect x="355.98" y="900.08" width="22.88" height="23.67" fill="#e4d9d2"/>
<rect x="378.46" y="900.08" width="22.88" height="23.67" fill="#d4dbe6"/>
<rect x="400.94" y="900.08" width="22.88" height="23.67" fill="#cedaeb"/>
<rect x="423.42" y="900.08" width="22.88" height="23.67" fill="#d7dce3"/>
<rect x="445.90" y="900.08" width="22.88" height="23.67" fill="#cedaeb"/>
<rect x="468.39" y="900.08" width="22.88" height="23.67" fill="#dddcdc"/>
<rect x="490.87" y="900.08" width="22.88" height="23.67" fill="#e8d6cc"/>
<rect x="513.35" y="900.08" width="22.88" height="23.67" fill="#c5d6f2"/>
<rect x="535.83" y="900.08" width="22.88" height="23.67" fill="#d4dbe6"/>
<rect x="558.31" y="900.08" width="22.88" height="23.67" fill="#bcd2f7"/>
<rect x="580.79" y="900.08" width="22.88" height="23.67" fill="#e4d9d2"/>
<rect x="603.27" y="900.08" width="22.88" height="23.67" fill="#f5c4ac"/>
<rect x="625.75" y="900.08" width="22.88" height="23.67" fill="#f0cdbb"/>
<rect x="648.23" y="900.08" width="22.88" height="23.67" fill="#d9dce1"/>
<rect x="670.71" y="900.08" width="22.88" height="23.67" fill="#c5d6f2"/>
<rect x="693.19" y="900.08" width="22.88" height="23.67" fill="#90b2fe"/>
<rect x="715.67" y="900.08" width="22.88" height="23.67" fill="#90b2fe"/>
<rect x="738.15" y="900.08" width="22.88" height="23.67" fill="#b1cbfc"/>
<rect x="760.63" y="900.08" width="22.88" height="23.67" fill="#e9d5cb"/>
<rect x="783.11" y="900.08" width="22.88" height="23.67" fill="#ebd3c6"/>
<rect x="805.59" y="900.08" width="22.88" height="23.67" fill="#f5c0a7"/>
<rect x="828.07" y="900.08" width="22.88" height="23.67" fill="#e8d6cc"/>
<rect x="850.55" y="900.08" width="22.88" height="23.67" fill="#c1d4f4"/>
<rect x="873.03" y="900.08" width="22.88" height="23.67" fill="#e5d8d1"/>
<rect x="895.51" y="900.08" width="22.88" height="23.67" fill="#b5cdfa"/>
<rect x="918.00" y="900.08" width="22.88" height="23.67" fill="#bcd2f7"/>
<rect x="940.48" y="900.08" width="22.88" height="23.67" fill="#ecd3c5"/>
<rect x="962.96" y="900.08" width="22.88" height="23.67" fill="#abc8fd"/>
<rect x="985.44" y="900.08" width="22.88" height="23.67" fill="#e3d9d3"/>
<rect x="1007.92" y="900.08" width="22.88" height="23.67" fill="#f4c5ad"/>
<rect x="1030.40" y="900.08" width="22.88" height="23.67" fill="#adc9fd"/>
<rect x="1052.88" y="900.08" width="22.88" height="23.67" fill="#d7dce3"/>
<rect x="1075.36" y="900.08" width="22.88" height="23.67" fill="#b40426"/>
<rect x="1097.84" y="900.08" width="22.88" height="23.67" fill="#f5c0a7"/>
<rect x="1120.32" y="900.08" width="22.88" height="23.67" fill="#f3c8b2"/>
<rect x="221.10" y="923.35" width="22.88" height="23.67" fill="#cfdaea"/>
<rect x="243.58" y="923.35" width="22.88" height="23.67" fill="#bad0f8"/>
<rect x="266.06" y="923.35" width="22.88" height="23.67" fill="#bad0f8"/>
<rect x="288.54" y="923.35" width="22.88" height="23.67" fill="#8db0fe"/>
<rect x="311.02" y="923.35" width="22.88" height="23.67" fill="#e5d8d1"/>
<rect x="333.50" y="923.35" width="22.88" height="23.67" fill="#dfdbd9"/>
<rect x="355.98" y="923.35" width="22.88" height="23.67" fill="#e5d8d1"/>
<rect x="378.46" y="923.35" width="22.88" height="23.67" fill="#7597f6"/>
<rect x="400.94" y="923.35" width="22.88" height="23.67" fill="#f4c5ad"/>
<rect x="423.42" y="923.35" width="22.88" height="23.67" fill="#9abbff"/>
<rect x="445.90" y="923.35" width="22.88" height="23.67" fill="#eed0c0"/>
<rect x="468.39" y="923.35" width="22.88" height="23.67" fill="#f7aa8c"/>
<rect x="490.87" y="923.35" width="22.88" height="23.67" fill="#ee8669"/>
<rect x="513.35" y="923.35" width="22.88" height="23.67" fill="#ebd3c6"/>
<rect x="535.83" y="923.35" width="22.88" height="23.67" fill="#88abfd"/>
<rect x="558.31" y="923.35" width="22.88" height="23.67" fill="#dddcdc"/>
<rect x="580.79" y="923.35" width="22.88" height="23.67" fill="#c6d6f1"/>
<rect x="603.27" y="923.35" width="22.88" height="23.67" fill="#f7b99e"/>
<rect x="625.75" y="923.35" width="22.88" height="23.67" fill="#f7b99e"/>
<rect x="648.23" y="923.35" width="22.88" height="23.67" fill="#f7b599"/>
<rect x="670.71" y="923.35" width="22.88" height="23.67" fill="#f7b093"/>
<rect x="693.19" y="923.35" width="22.88" height="23.67" fill="#a5c3fe"/>
<rect x="715.67" y="923.35" width="22.88" height="23.67" fill="#adc9fd"/>
<rect x="738.15" y="923.35" width="22.88" height="23.67" fill="#dddcdc"/>
<rect x="760.63" y="923.35" width="22.88" height="23.67" fill="#f7ac8e"/>
<rect x="783.11" y="923.35" width="22.88" height="23.67" fill="#a7c5fe"/>
<rect x="805.59" y="923.35" width="22.88" height="23.67" fill="#dddcdc"/>
<rect x="828.07" y="923.35" width="22.88" height="23.67" fill="#9fbfff"/>
<rect x="850.55" y="923.35" width="22.88" height="23.67" fill="#c5d6f2"/>
<rect x="873.03" y="923.35" width="22.88" height="23.67" fill="#e5d8d1"/>
<rect x="895.51" y="923.35" width="22.88" height="23.67" fill="#94b6ff"/>
<rect x="918.00" y="923.35" width="22.88" height="23.67" fill="#f7a688"/>
<rect x="940.48" y="923.35" width="22.88" height="23.67" fill="#f5c4ac"/>
<rect x="962.96" y="923.35" width="22.88" height="23.67" fill="#c1d4f4"/>
<rect x="985.44" y="923.35" width="22.88" height="23.67" fill="#8db0fe"/>
<rect x="1007.92" y="923.35" width="22.88" height="23.67" fill="#f4c5ad"/>
<rect x="1030.40" y="923.35" width="22.88" height="23.67" fill="#96b7ff"/>
<rect x="1052.88" y="923.35" width="22.88" height="23.67" fill="#96b7ff"/>
<rect x="1075.36" y="923.35" width="22.88" height="23.67" fill="#f5c0a7"/>
<rect x="1097.84" y="923.35" width="22.88" height="23.67" fill="#b40426"/>
<rect x="1120.32" y="923.35" width="22.88" height="23.67" fill="#c1d4f4"/>
<rect x="221.10" y="946.63" width="22.88" height="23.67" fill="#d9dce1"/>
<rect x="243.58" y="946.63" width="22.88" height="23.67" fill="#edd1c2"/>
<rect x="266.06" y="946.63" width="22.88" height="23.67" fill="#e9d5cb"/>
<rect x="288.54" y="946.63" width="22.88" height="23.67" fill="#f7b599"/>
<rect x="311.02" y="946.63" width="22.88" height="23.67" fill="#c6d6f1"/>
<rect x="333.50" y="946.63" width="22.88" height="23.67" fill="#d4dbe6"/>
<rect x="355.98" y="946.63" width="22.88" height="23.67" fill="#c1d4f4"/>
<rect x="378.46" y="946.63" width="22.88" height="23.67" fill="#f4c5ad"/>
<rect x="400.94" y="946.63" width="22.88" height="23.67" fill="#dddcdc"/>
<rect x="423.42" y="946.63" width="22.88" height="23.67" fill="#f5c0a7"/>
<rect x="445.90" y="946.63" width="22.88" height="23.67" fill="#cad8ef"/>
<rect x="468.39" y="946.63" width="22.88" height="23.67" fill="#cedaeb"/>
<rect x="490.87" y="946.63" width="22.88" height="23.67" fill="#cad8ef"/>
<rect x="513.35" y="946.63" width="22.88" height="23.67" fill="#cfdaea"/>
<rect x="535.83" y="946.63" width="22.88" height="23.67" fill="#edd1c2"/>
<rect x="558.31" y="946.63" width="22.88" height="23.67" fill="#dddcdc"/>
<rect x="580.79" y="946.63" width="22.88" height="23.67" fill="#e9d5cb"/>
<rect x="603.27" y="946.63" width="22.88" height="23.67" fill="#cad8ef"/>
<rect x="625.75" y="946.63" width="22.88" height="23.67" fill="#abc8fd"/>
<rect x="648.23" y="946.63" width="22.88" height="23.67" fill="#7a9df8"/>
<rect x="670.71" y="946.63" width="22.88" height="23.67" fill="#80a3fa"/>
<rect x="693.19" y="946.63" width="22.88" height="23.67" fill="#9abbff"/>
<rect x="715.67" y="946.63" width="22.88" height="23.67" fill="#adc9fd"/>
<rect x="738.15" y="946.63" width="22.88" height="23.67" fill="#d9dce1"/>
<rect x="760.63" y="946.63" width="22.88" height="23.67" fill="#e8d6cc"/>
<rect x="783.11" y="946.63" width="22.88" height="23.67" fill="#f5c4ac"/>
<rect x="805.59" y="946.63" width="22.88" height="23.67" fill="#e2dad5"/>
<rect x="828.07" y="946.63" width="22.88" height="23.67" fill="#cedaeb"/>
<rect x="850.55" y="946.63" width="22.88" height="23.67" fill="#9abbff"/>
<rect x="873.03" y="946.63" width="22.88" height="23.67" fill="#f5c4ac"/>
<rect x="895.51" y="946.63" width="22.88" height="23.67" fill="#f7b093"/>
<rect x="918.00" y="946.63" width="22.88" height="23.67" fill="#a7c5fe"/>
<rect x="940.48" y="946.63" width="22.88" height="23.67" fill="#d4dbe6"/>
<rect x="962.96" y="946.63" width="22.88" height="23.67" fill="#94b6ff"/>
<rect x="985.44" y="946.63" width="22.88" height="23.67" fill="#eed0c0"/>
<rect x="1007.92" y="946.63" width="22.88" height="23.67" fill="#9abbff"/>
<rect x="1030.40" y="946.63" width="22.88" height="23.67" fill="#ead5c9"/>
<rect x="1052.88" y="946.63" width="22.88" height="23.67" fill="#e4d9d2"/>
<rect x="1075.36" y="946.63" width="22.88" height="23.67" fill="#f3c8b2"/>
<rect x="1097.84" y="946.63" width="22.88" height="23.67" fill="#c1d4f4"/>
<rect x="1120.32" y="946.63" width="22.88" height="23.67" fill="#b40426"/>
</g>
<rect x="1200.10" y="15.80" width="48.00" height="954.10" fill="url(#cb)"/>
<path d="M221.10 27.34H227.30M221.10 50.61H227.30M221.10 73.88H227.30M221.10 97.16H227.30M221.10 120.43H227.30M221.10 143.70H227.30M221.10 166.98H227.30M221.10 190.25H227.30M221.10 213.52H227.30M221.10 236.80H227.30M221.10 260.07H227.30M221.10 283.34H227.30M221.10 306.61H227.30M221.10 329.89H227.30M221.10 353.16H227.30M221.10 376.43H227.30M221.10 399.71H227.30M221.10 422.98H227.30M221.10 446.25H227.30M221.10 469.53H227.30M221.10 492.80H227.30M221.10 516.07H227.30M221.10 539.35H227.30M221.10 562.62H227.30M221.10 585.89H227.30M221.10 609.17H227.30M221.10 632.44H227.30M221.10 655.71H227.30M221.10 678.99H227.30M221.10 702.26H227.30M221.10 725.53H227.30M221.10 748.80H227.30M221.10 772.08H227.30M221.10 795.35H227.30M221.10 818.62H227.30M221.10 841.90H227.30M221.10 865.17H227.30M221.10 888.44H227.30M221.10 911.72H227.30M221.10 934.99H227.30M221.10 958.26H227.30M232.34 969.90V963.70M254.82 969.90V963.70M277.30 969.90V963.70M299.78 969.90V963.70M322.26 969.90V963.70M344.74 969.90V963.70M367.22 969.90V963.70M389.70 969.90V963.70M412.18 969.90V963.70M434.66 969.90V963.70M457.15 969.90V963.70M479.63 969.90V963.70M502.11 969.90V963.70M524.59 969.90V963.70M547.07 969.90V963.70M569.55 969.90V963.70M592.03 969.90V963.70M614.51 969.90V963.70M636.99 969.90V963.70M659.47 969.90V963.70M681.95 969.90V963.70M704.43 969.90V963.70M726.91 969.90V963.70M749.39 969.90V963.70M771.87 969.90V963.70M794.35 969.90V963.70M816.83 969.90V963.70M839.31 969.90V963.70M861.79 969.90V963.70M884.27 969.90V963.70M906.75 969.90V963.70M929.24 969.90V963.70M951.72 969.90V963.70M974.20 969.90V963.70M996.68 969.90V963.70M1019.16 969.90V963.70M1041.64 969.90V963.70M1064.12 969.90V963.70M1086.60 969.90V963.70M1109.08 969.90V963.70M1131.56 969.90V963.70M1248.10 15.80H1241.90M1248.10 139.10H1241.90M1248.10 262.40H1241.90M1248.10 385.70H1241.90M1248.10 509.00H1241.90M1248.10 632.30H1241.90M1248.10 755.60H1241.90M1248.10 878.90H1241.90" stroke="#000" stroke-width="1.6" fill="none"/>
<text x="214.80" y="33.64" font-size="21.93" text-anchor="end" textLength="208.76" lengthAdjust="spacingAndGlyphs">Number of Syllables</text>
<text x="214.80" y="56.91" font-size="21.93" text-anchor="end" textLength="188.38" lengthAdjust="spacingAndGlyphs">Number of Pauses</text>
<text x="214.80" y="80.18" font-size="21.93" text-anchor="end" textLength="157.21" lengthAdjust="spacingAndGlyphs">Rate of Speech</text>
<text x="214.80" y="103.46" font-size="21.93" text-anchor="end" textLength="168.16" lengthAdjust="spacingAndGlyphs">Articulation rate</text>
<text x="214.80" y="126.73" font-size="21.93" text-anchor="end" textLength="192.65" lengthAdjust="spacingAndGlyphs">Speaking Duration</text>
<text x="214.80" y="150.00" font-size="21.93" text-anchor="end" textLength="177.92" lengthAdjust="spacingAndGlyphs">Original Duration</text>
<text x="214.80" y="173.28" font-size="21.93" text-anchor="end" textLength="82.76" lengthAdjust="spacingAndGlyphs">Balance</text>
<text x="214.80" y="196.55" font-size="21.93" text-anchor="end" textLength="107.20" lengthAdjust="spacingAndGlyphs">Frequency</text>
<text x="214.80" y="219.82" font-size="21.93" text-anchor="end" textLength="43.12" lengthAdjust="spacingAndGlyphs">ZCR</text>
<text x="214.80" y="243.10" font-size="21.93" text-anchor="end" textLength="72.65" lengthAdjust="spacingAndGlyphs">Energy</text>
<text x="214.80" y="266.37" font-size="21.93" text-anchor="end" textLength="159.86" lengthAdjust="spacingAndGlyphs">Energy Entropy</text>
<text x="214.80" y="289.64" font-size="21.93" text-anchor="end" textLength="180.51" lengthAdjust="spacingAndGlyphs">Spectral Centroid</text>
<text x="214.80" y="312.91" font-size="21.93" text-anchor="end" textLength="165.33" lengthAdjust="spacingAndGlyphs">Spectral Spread</text>
<text x="214.80" y="336.19" font-size="21.93" text-anchor="end" textLength="172.88" lengthAdjust="spacingAndGlyphs">Spectral Entropy</text>
<text x="214.80" y="359.46" font-size="21.93" text-anchor="end" textLength="135.39" lengthAdjust="spacingAndGlyphs">Spectral Flux</text>
<text x="214.80" y="382.73" font-size="21.93" text-anchor="end" textLength="156.96" lengthAdjust="spacingAndGlyphs">Spectral Rolloff</text>
<text x="214.80" y="406.01" font-size="21.93" text-anchor="end" textLength="78.61" lengthAdjust="spacingAndGlyphs">MFCC 1</text>
<text x="214.80" y="429.28" font-size="21.93" text-anchor="end" textLength="78.61" lengthAdjust="spacingAndGlyphs">MFCC 2</text>
<text x="214.80" y="452.55" font-size="21.93" text-anchor="end" textLength="67.82" lengthAdjust="spacingAndGlyphs">Mfcc 3</text>
<text x="214.80" y="475.83" font-size="21.93" text-anchor="end" textLength="67.82" lengthAdjust="spacingAndGlyphs">Mfcc 4</text>
<text x="214.80" y="499.10" font-size="21.93" text-anchor="end" textLength="67.82" lengthAdjust="spacingAndGlyphs">Mfcc 5</text>
<text x="214.80" y="522.37" font-size="21.93" text-anchor="end" textLength="67.82" lengthAdjust="spacingAndGlyphs">Mfcc 6</text>
<text x="214.80" y="545.65" font-size="21.93" text-anchor="end" textLength="67.82" lengthAdjust="spacingAndGlyphs">Mfcc 7</text>
<text x="214.80" y="568.92" font-size="21.93" text-anchor="end" textLength="67.82" lengthAdjust="spacingAndGlyphs">Mfcc 8</text>
<text x="214.80" y="592.19" font-size="21.93" text-anchor="end" textLength="67.82" lengthAdjust="spacingAndGlyphs">Mfcc 9</text>
<text x="214.80" y="615.47" font-size="21.93" text-anchor="end" textLength="81.02" lengthAdjust="spacingAndGlyphs">Mfcc 10</text>
<text x="214.80" y="638.74" font-size="21.93" text-anchor="end" textLength="81.02" lengthAdjust="spacingAndGlyphs">Mfcc 11</text>
<text x="214.80" y="662.01" font-size="21.93" text-anchor="end" textLength="81.02" lengthAdjust="spacingAndGlyphs">Mfcc 12</text>
<text x="214.80" y="685.29" font-size="21.93" text-anchor="end" textLength="81.02" lengthAdjust="spacingAndGlyphs">Mfcc 13</text>
<text x="214.80" y="708.56" font-size="21.93" text-anchor="end" textLength="101.14" lengthAdjust="spacingAndGlyphs">Chroma 1</text>
<text x="214.80" y="731.83" font-size="21.93" text-anchor="end" textLength="101.14" lengthAdjust="spacingAndGlyphs">Chroma 2</text>
<text x="214.80" y="755.10" font-size="21.93" text-anchor="end" textLength="101.14" lengthAdjust="spacingAndGlyphs">Chroma 3</text>
<text x="214.80" y="778.38" font-size="21.93" text-anchor="end" textLength="101.14" lengthAdjust="spacingAndGlyphs">Chroma 4</text>
<text x="214.80" y="801.65" font-size="21.93" text-anchor="end" textLength="101.14" lengthAdjust="spacingAndGlyphs">Chroma 5</text>
<text x="214.80" y="824.92" font-size="21.93" text-anchor="end" textLength="101.14" lengthAdjust="spacingAndGlyphs">Chroma 6</text>
<text x="214.80" y="848.20" font-size="21.93" text-anchor="end" textLength="101.14" lengthAdjust="spacingAndGlyphs">Chroma 7</text>
<text x="214.80" y="871.47" font-size="21.93" text-anchor="end" textLength="101.14" lengthAdjust="spacingAndGlyphs">Chroma 8</text>
<text x="214.80" y="894.74" font-size="21.93" text-anchor="end" textLength="101.14" lengthAdjust="spacingAndGlyphs">Chroma 9</text>
<text x="214.80" y="918.02" font-size="21.93" text-anchor="end" textLength="114.34" lengthAdjust="spacingAndGlyphs">Chroma 10</text>
<text x="214.80" y="941.29" font-size="21.93" text-anchor="end" textLength="114.34" lengthAdjust="spacingAndGlyphs">Chroma 11</text>
<text x="214.80" y="964.56" font-size="21.93" text-anchor="end" textLength="114.34" lengthAdjust="spacingAndGlyphs">Chroma 12</text>
<text transform="translate(237.54 977.80) rotate(-90)" x="0" y="0" font-size="21.93" text-anchor="end" textLength="208.76" lengthAdjust="spacingAndGlyphs">Number of Syllables</text>
<text transform="translate(260.02 977.80) rotate(-90)" x="0" y="0" font-size="21.93" text-anchor="end" textLength="188.38" lengthAdjust="spacingAndGlyphs">Number of Pauses</text>
<text transform="translate(282.50 977.80) rotate(-90)" x="0" y="0" font-size="21.93" text-anchor="end" textLength="157.21" lengthAdjust="spacingAndGlyphs">Rate of Speech</text>
<text transform="translate(304.98 977.80) rotate(-90)" x="0" y="0" font-size="21.93" text-anchor="end" textLength="168.16" lengthAdjust="spacingAndGlyphs">Articulation rate</text>
<text transform="translate(327.46 977.80) rotate(-90)" x="0" y="0" font-size="21.93" text-anchor="end" textLength="192.65" lengthAdjust="spacingAndGlyphs">Speaking Duration</text>
<text transform="translate(349.94 977.80) rotate(-90)" x="0" y="0" font-size="21.93" text-anchor="end" textLength="177.92" lengthAdjust="spacingAndGlyphs">Original Duration</text>
<text transform="translate(372.42 977.80) rotate(-90)" x="0" y="0" font-size="21.93" text-anchor="end" textLength="82.76" lengthAdjust="spacingAndGlyphs">Balance</text>
<text transform="translate(394.90 977.80) rotate(-90)" x="0" y="0" font-size="21.93" text-anchor="end" textLength="107.20" lengthAdjust="spacingAndGlyphs">Frequency</text>
<text transform="translate(417.38 977.80) rotate(-90)" x="0" y="0" font-size="21.93" text-anchor="end" textLength="43.12" lengthAdjust="spacingAndGlyphs">ZCR</text>
<text transform="translate(439.86 977.80) rotate(-90)" x="0" y="0" font-size="21.93" text-anchor="end" textLength="72.65" lengthAdjust="spacingAndGlyphs">Energy</text>
<text transform="translate(462.35 977.80) rotate(-90)" x="0" y="0" font-size="21.93" text-anchor="end" textLength="159.86" lengthAdjust="spacingAndGlyphs">Energy Entropy</text>
<text transform="translate(484.83 977.80) rotate(-90)" x="0" y="0" font-size="21.93" text-anchor="end" textLength="180.51" lengthAdjust="spacingAndGlyphs">Spectral Centroid</text>
<text transform="translate(507.31 977.80) rotate(-90)" x="0" y="0" font-size="21.93" text-anchor="end" textLength="165.33" lengthAdjust="spacingAndGlyphs">Spectral Spread</text>
<text transform="translate(529.79 977.80) rotate(-90)" x="0" y="0" font-size="21.93" text-anchor="end" textLength="172.88" lengthAdjust="spacingAndGlyphs">Spectral Entropy</text>
<text transform="translate(552.27 977.80) rotate(-90)" x="0" y="0" font-size="21.93" text-anchor="end" textLength="135.39" lengthAdjust="spacingAndGlyphs">Spectral Flux</text>
<text transform="translate(574.75 977.80) rotate(-90)" x="0" y="0" font-size="21.93" text-anchor="end" textLength="156.96" lengthAdjust="spacingAndGlyphs">Spectral Rolloff</text>
<text transform="translate(597.23 977.80) rotate(-90)" x="0" y="0" font-size="21.93" text-anchor="end" textLength="78.61" lengthAdjust="spacingAndGlyphs">MFCC 1</text>
<text transform="translate(619.71 977.80) rotate(-90)" x="0" y="0" font-size="21.93" text-anchor="end" textLength="78.61" lengthAdjust="spacingAndGlyphs">MFCC 2</text>
<text transform="translate(642.19 977.80) rotate(-90)" x="0" y="0" font-size="21.93" text-anchor="end" textLength="67.82" lengthAdjust="spacingAndGlyphs">Mfcc 3</text>
<text transform="translate(664.67 977.80) rotate(-90)" x="0" y="0" font-size="21.93" text-anchor="end" textLength="67.82" lengthAdjust="spacingAndGlyphs">Mfcc 4</text>
<text transform="translate(687.15 977.80) rotate(-90)" x="0" y="0" font-size="21.93" text-anchor="end" textLength="67.82" lengthAdjust="spacingAndGlyphs">Mfcc 5</text>
<text transform="translate(709.63 977.80) rotate(-90)" x="0" y="0" font-size="21.93" text-anchor="end" textLength="67.82" lengthAdjust="spacingAndGlyphs">Mfcc 6</text>
<text transform="translate(732.11 977.80) rotate(-90)" x="0" y="0" font-size="21.93" text-anchor="end" textLength="67.82" lengthAdjust="spacingAndGlyphs">Mfcc 7</text>
<text transform="translate(754.59 977.80) rotate(-90)" x="0" y="0" font-size="21.93" text-anchor="end" textLength="67.82" lengthAdjust="spacingAndGlyphs">Mfcc 8</text>
<text transform="translate(777.07 977.80) rotate(-90)" x="0" y="0" font-size="21.93" text-anchor="end" textLength="67.82" lengthAdjust="spacingAndGlyphs">Mfcc 9</text>
<text transform="translate(799.55 977.80) rotate(-90)" x="0" y="0" font-size="21.93" text-anchor="end" textLength="81.02" lengthAdjust="spacingAndGlyphs">Mfcc 10</text>
<text transform="translate(822.03 977.80) rotate(-90)" x="0" y="0" font-size="21.93" text-anchor="end" textLength="81.02" lengthAdjust="spacingAndGlyphs">Mfcc 11</text>
<text transform="translate(844.51 977.80) rotate(-90)" x="0" y="0" font-size="21.93" text-anchor="end" textLength="81.02" lengthAdjust="spacingAndGlyphs">Mfcc 12</text>
<text transform="translate(866.99 977.80) rotate(-90)" x="0" y="0" font-size="21.93" text-anchor="end" textLength="81.02" lengthAdjust="spacingAndGlyphs">Mfcc 13</text>
<text transform="translate(889.47 977.80) rotate(-90)" x="0" y="0" font-size="21.93" text-anchor="end" textLength="101.14" lengthAdjust="spacingAndGlyphs">Chroma 1</text>
<text transform="translate(911.95 977.80) rotate(-90)" x="0" y="0" font-size="21.93" text-anchor="end" textLength="101.14" lengthAdjust="spacingAndGlyphs">Chroma 2</text>
<text transform="translate(934.44 977.80) rotate(-90)" x="0" y="0" font-size="21.93" text-anchor="end" textLength="101.14" lengthAdjust="spacingAndGlyphs">Chroma 3</text>
<text transform="translate(956.92 977.80) rotate(-90)" x="0" y="0" font-size="21.93" text-anchor="end" textLength="101.14" lengthAdjust="spacingAndGlyphs">Chroma 4</text>
<text transform="translate(979.40 977.80) rotate(-90)" x="0" y="0" font-size="21.93" text-anchor="end" textLength="101.14" lengthAdjust="spacingAndGlyphs">Chroma 5</text>
<text transform="translate(1001.88 977.80) rotate(-90)" x="0" y="0" font-size="21.93" text-anchor="end" textLength="101.14" lengthAdjust="spacingAndGlyphs">Chroma 6</text>
<text transform="translate(1024.36 977.80) rotate(-90)" x="0" y="0" font-size="21.93" text-anchor="end" textLength="101.14" lengthAdjust="spacingAndGlyphs">Chroma 7</text>
<text transform="translate(1046.84 977.80) rotate(-90)" x="0" y="0" font-size="21.93" text-anchor="end" textLength="101.14" lengthAdjust="spacingAndGlyphs">Chroma 8</text>
<text transform="translate(1069.32 977.80) rotate(-90)" x="0" y="0" font-size="21.93" text-anchor="end" textLength="101.14" lengthAdjust="spacingAndGlyphs">Chroma 9</text>
<text transform="translate(1091.80 977.80) rotate(-90)" x="0" y="0" font-size="21.93" text-anchor="end" textLength="114.34" lengthAdjust="spacingAndGlyphs">Chroma 10</text>
<text transform="translate(1114.28 977.80) rotate(-90)" x="0" y="0" font-size="21.93" text-anchor="end" textLength="114.34" lengthAdjust="spacingAndGlyphs">Chroma 11</text>
<text transform="translate(1136.76 977.80) rotate(-90)" x="0" y="0" font-size="21.93" text-anchor="end" textLength="114.34" lengthAdjust="spacingAndGlyphs">Chroma 12</text>
<text x="1255.20" y="24.20" font-size="21.77" textLength="43.57" lengthAdjust="spacingAndGlyphs">1.00</text>
<text x="1255.20" y="147.50" font-size="21.77" textLength="43.57" lengthAdjust="spacingAndGlyphs">0.75</text>
<text x="1255.20" y="270.80" font-size="21.77" textLength="43.57" lengthAdjust="spacingAndGlyphs">0.50</text>
<text x="1255.20" y="394.10" font-size="21.77" textLength="43.57" lengthAdjust="spacingAndGlyphs">0.25</text>
<text x="1255.20" y="517.40" font-size="21.77" textLength="43.57" lengthAdjust="spacingAndGlyphs">0.00</text>
<text x="1255.20" y="640.70" font-size="21.77" textLength="59.97" lengthAdjust="spacingAndGlyphs">−0.25</text>
<text x="1255.20" y="764.00" font-size="21.77" textLength="59.97" lengthAdjust="spacingAndGlyphs">−0.50</text>
<text x="1255.20" y="887.30" font-size="21.77" textLength="59.97" lengthAdjust="spacingAndGlyphs">−0.75</text>
</svg></body></html>
